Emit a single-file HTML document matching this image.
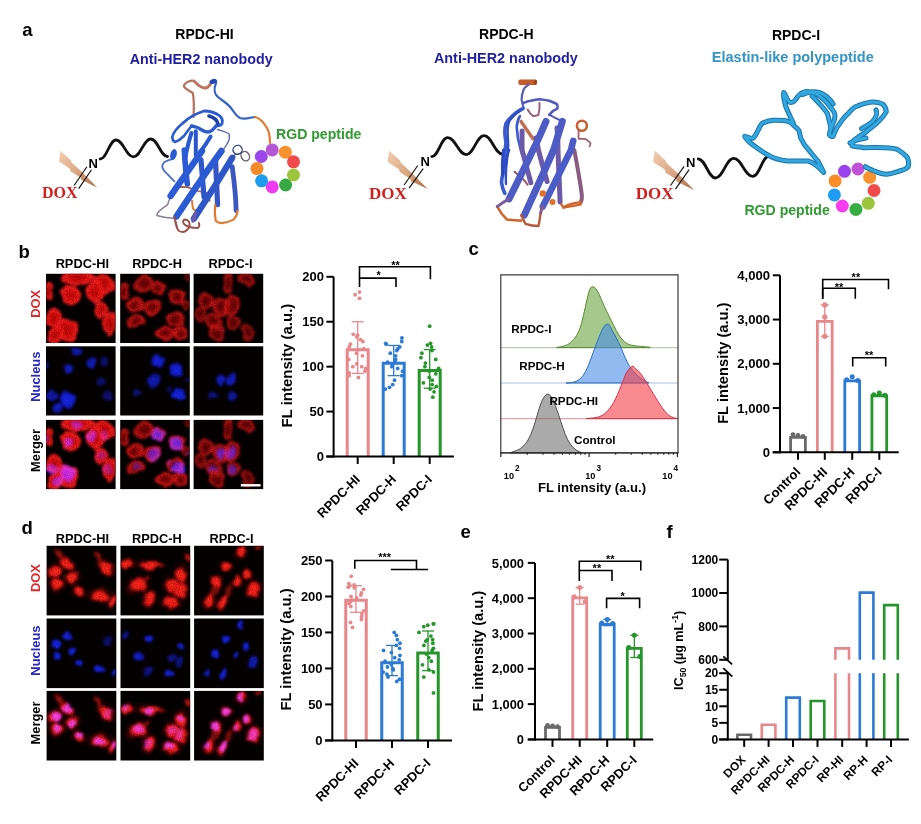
<!DOCTYPE html>
<html><head><meta charset="utf-8"><title>Figure</title>
<style>html,body{margin:0;padding:0;background:#fff;}svg{display:block;filter:blur(0.35px);}</style>
</head><body>
<svg width="921" height="824" viewBox="0 0 921 824">
<defs>
<linearGradient id="bolt" x1="0" y1="0" x2="1" y2="1">
<stop offset="0" stop-color="#f2cfb2"/><stop offset="0.55" stop-color="#d9a47e"/><stop offset="1" stop-color="#a86a42"/>
</linearGradient>
<radialGradient id="gb"><stop offset="0" stop-color="#680000"/><stop offset="0.4" stop-color="#8c0606"/><stop offset="0.68" stop-color="#d81414"/><stop offset="0.86" stop-color="#e01616" stop-opacity="0.92"/><stop offset="1" stop-color="#e01616" stop-opacity="0"/></radialGradient>
<radialGradient id="gd"><stop offset="0" stop-color="#ff2a1e"/><stop offset="0.7" stop-color="#f01a14"/><stop offset="1" stop-color="#f01a14" stop-opacity="0"/></radialGradient>
<radialGradient id="gb1"><stop offset="0" stop-color="#b00404"/><stop offset="0.45" stop-color="#d40e0e"/><stop offset="0.75" stop-color="#f01a1a"/><stop offset="0.9" stop-color="#f01a1a" stop-opacity="0.9"/><stop offset="1" stop-color="#f01a1a" stop-opacity="0"/></radialGradient>
<radialGradient id="gh"><stop offset="0" stop-color="#e01010"/><stop offset="0.6" stop-color="#c00c0c" stop-opacity="0.7"/><stop offset="1" stop-color="#c00c0c" stop-opacity="0"/></radialGradient>
<radialGradient id="gn"><stop offset="0" stop-color="#1824e8"/><stop offset="0.6" stop-color="#1420d0"/><stop offset="0.85" stop-color="#1018c0" stop-opacity="0.8"/><stop offset="1" stop-color="#1018c0" stop-opacity="0"/></radialGradient>
<filter id="soft" x="-10%" y="-10%" width="120%" height="120%"><feGaussianBlur stdDeviation="1.1"/></filter>
<filter id="cellf" filterUnits="userSpaceOnUse" x="0" y="0" width="70" height="70" color-interpolation-filters="sRGB">
<feTurbulence type="fractalNoise" baseFrequency="0.09" numOctaves="2" seed="11" result="w"/>
<feDisplacementMap in="SourceGraphic" in2="w" scale="7" xChannelSelector="R" yChannelSelector="G" result="dsp"/>
<feGaussianBlur in="dsp" stdDeviation="1.3" result="b"/>
<feTurbulence type="fractalNoise" baseFrequency="0.85" numOctaves="1" seed="4" result="n"/>
<feColorMatrix in="n" type="matrix" values="1 0 0 0 0  1 0 0 0 0  1 0 0 0 0  1 0 0 0 0" result="g"/>
<feComposite in="b" in2="g" operator="arithmetic" k1="0.9" k2="0.72" k3="0" k4="0"/>
</filter>
<filter id="nucf" filterUnits="userSpaceOnUse" x="0" y="0" width="70" height="70" color-interpolation-filters="sRGB">
<feTurbulence type="fractalNoise" baseFrequency="0.09" numOctaves="2" seed="11" result="w"/>
<feDisplacementMap in="SourceGraphic" in2="w" scale="7" xChannelSelector="R" yChannelSelector="G" result="dsp"/>
<feGaussianBlur in="dsp" stdDeviation="1.0" result="b"/>
<feTurbulence type="fractalNoise" baseFrequency="0.8" numOctaves="1" seed="9" result="n"/>
<feColorMatrix in="n" type="matrix" values="1 0 0 0 0  1 0 0 0 0  1 0 0 0 0  1 0 0 0 0" result="g"/>
<feComposite in="b" in2="g" operator="arithmetic" k1="0.8" k2="0.75" k3="0" k4="0"/>
</filter>
</defs>
<rect width="921" height="824" fill="#fff"/>
<text x="22.20" y="36.00" font-family="'Liberation Sans', Arial, Helvetica, sans-serif" font-size="18.5" font-weight="bold" fill="#000" text-anchor="start" >a</text>
<text x="18.60" y="257.80" font-family="'Liberation Sans', Arial, Helvetica, sans-serif" font-size="18.5" font-weight="bold" fill="#000" text-anchor="start" >b</text>
<text x="468.60" y="255.20" font-family="'Liberation Sans', Arial, Helvetica, sans-serif" font-size="18.5" font-weight="bold" fill="#000" text-anchor="start" >c</text>
<text x="21.40" y="534.00" font-family="'Liberation Sans', Arial, Helvetica, sans-serif" font-size="18.5" font-weight="bold" fill="#000" text-anchor="start" >d</text>
<text x="460.60" y="537.80" font-family="'Liberation Sans', Arial, Helvetica, sans-serif" font-size="18.5" font-weight="bold" fill="#000" text-anchor="start" >e</text>
<text x="666.50" y="537.60" font-family="'Liberation Sans', Arial, Helvetica, sans-serif" font-size="18.5" font-weight="bold" fill="#000" text-anchor="start" >f</text>
<text x="204.50" y="39.40" font-family="'Liberation Sans', Arial, Helvetica, sans-serif" font-size="14" font-weight="bold" fill="#000" text-anchor="middle" >RPDC-HI</text>
<text x="201.20" y="64.20" font-family="'Liberation Sans', Arial, Helvetica, sans-serif" font-size="14.3" font-weight="bold" fill="#1f1fa0" text-anchor="middle" >Anti-HER2 nanobody</text>
<text x="506.30" y="39.20" font-family="'Liberation Sans', Arial, Helvetica, sans-serif" font-size="14" font-weight="bold" fill="#000" text-anchor="middle" >RPDC-H</text>
<text x="505.90" y="62.50" font-family="'Liberation Sans', Arial, Helvetica, sans-serif" font-size="14.4" font-weight="bold" fill="#1f1fa0" text-anchor="middle" >Anti-HER2 nanobody</text>
<text x="796.00" y="39.80" font-family="'Liberation Sans', Arial, Helvetica, sans-serif" font-size="14" font-weight="bold" fill="#000" text-anchor="middle" >RPDC-I</text>
<text x="792.80" y="62.30" font-family="'Liberation Sans', Arial, Helvetica, sans-serif" font-size="14.5" font-weight="bold" fill="#3494c4" text-anchor="middle" >Elastin-like polypeptide</text>
<text x="276.00" y="139.20" font-family="'Liberation Sans', Arial, Helvetica, sans-serif" font-size="14.1" font-weight="bold" fill="#2f9a2f" text-anchor="start" >RGD peptide</text>
<text x="744.40" y="215.40" font-family="'Liberation Sans', Arial, Helvetica, sans-serif" font-size="14.1" font-weight="bold" fill="#2f9a2f" text-anchor="start" >RGD peptide</text>
<polygon points="60.4,150.7 71.0,160.4 71.5,162.4 81.8,171.8 97.2,187.5 81.0,179.8 80.6,177.6 70.4,171.2 70.1,168.7 59.0,161.5" fill="url(#bolt)"/>
<line x1="86.90" y1="166.70" x2="74.10" y2="185.50" stroke="#111" stroke-width="1.15" stroke-linecap="butt"/>
<line x1="91.50" y1="169.80" x2="78.70" y2="188.60" stroke="#111" stroke-width="1.15" stroke-linecap="butt"/>
<text x="88.60" y="167.80" font-family="'Liberation Sans', Arial, Helvetica, sans-serif" font-size="13" font-weight="bold" fill="#000" text-anchor="start" >N</text>
<text x="42.00" y="197.90" font-family="'Liberation Serif', 'Times New Roman', serif" font-size="16" font-weight="bold" fill="#d41e1e" text-anchor="start" >DOX</text>
<path d="M100.2,159.0 C106.8,159.0 109.4,140.0 116.0,140.0 C123.3,140.0 126.1,156.8 133.4,156.8 C140.7,156.8 143.5,139.0 150.8,139.0 C157.8,139.0 160.5,156.5 167.5,156.5" fill="none" stroke="#111" stroke-width="2.8" stroke-linecap="round"/>
<polygon points="389.1,150.5 400.2,160.7 400.8,162.8 411.6,172.7 427.7,189.1 410.7,181.1 410.3,178.7 399.6,172.0 399.3,169.4 387.6,161.8" fill="url(#bolt)"/>
<line x1="417.80" y1="165.50" x2="404.10" y2="185.00" stroke="#111" stroke-width="1.15" stroke-linecap="butt"/>
<line x1="423.20" y1="168.70" x2="409.10" y2="188.20" stroke="#111" stroke-width="1.15" stroke-linecap="butt"/>
<text x="420.60" y="165.60" font-family="'Liberation Sans', Arial, Helvetica, sans-serif" font-size="13" font-weight="bold" fill="#000" text-anchor="start" >N</text>
<text x="369.00" y="198.60" font-family="'Liberation Serif', 'Times New Roman', serif" font-size="17" font-weight="bold" fill="#d41e1e" text-anchor="start" >DOX</text>
<path d="M431.8,156.6 C438.4,156.6 441.0,137.6 447.6,137.6 C455.4,137.6 458.4,154.6 466.2,154.6 C473.7,154.6 476.6,135.6 484.1,135.6 C491.7,135.6 494.7,154.0 502.3,154.0" fill="none" stroke="#111" stroke-width="2.8" stroke-linecap="round"/>
<polygon points="654.6,150.5 665.9,160.9 666.5,163.0 677.5,173.1 694.0,189.9 676.6,181.6 676.2,179.3 665.3,172.4 665.0,169.8 653.1,162.1" fill="url(#bolt)"/>
<line x1="684.10" y1="166.40" x2="670.50" y2="185.50" stroke="#111" stroke-width="1.15" stroke-linecap="butt"/>
<line x1="689.10" y1="169.60" x2="675.50" y2="189.10" stroke="#111" stroke-width="1.15" stroke-linecap="butt"/>
<text x="686.00" y="166.50" font-family="'Liberation Sans', Arial, Helvetica, sans-serif" font-size="13" font-weight="bold" fill="#000" text-anchor="start" >N</text>
<text x="635.80" y="198.70" font-family="'Liberation Serif', 'Times New Roman', serif" font-size="17" font-weight="bold" fill="#d41e1e" text-anchor="start" >DOX</text>
<path d="M698.3,159.0 C705.5,159.0 708.3,178.0 715.5,178.0 C723.1,178.0 726.1,158.4 733.7,158.4 C741.7,158.4 744.8,176.4 752.8,176.4 C759.5,176.4 762.1,156.4 768.8,156.4" fill="none" stroke="#111" stroke-width="2.8" stroke-linecap="round"/>
<circle cx="272.2" cy="149.9" r="6.5" fill="#b556d6"/>
<circle cx="285.3" cy="152.2" r="6.5" fill="#f8922e"/>
<circle cx="293.5" cy="161.8" r="6.5" fill="#f04a4a"/>
<circle cx="293.5" cy="175" r="6.5" fill="#9cc43c"/>
<circle cx="285.6" cy="185" r="6.5" fill="#36a844"/>
<circle cx="272.2" cy="186.9" r="6.5" fill="#f03cf0"/>
<circle cx="261.6" cy="180.8" r="6.5" fill="#1c9cf0"/>
<circle cx="257" cy="168.6" r="6.5" fill="#f58a26"/>
<circle cx="261.3" cy="156.5" r="6.5" fill="#9a46ea"/>
<circle cx="844.5" cy="171.3" r="6.5" fill="#9a42ee"/>
<circle cx="858" cy="169" r="6.5" fill="#bf52d6"/>
<circle cx="869.7" cy="177.3" r="6.5" fill="#f8922e"/>
<circle cx="874" cy="190.5" r="6.5" fill="#f04a4a"/>
<circle cx="868.3" cy="203.3" r="6.5" fill="#9cc43c"/>
<circle cx="855.9" cy="209.4" r="6.5" fill="#36ae44"/>
<circle cx="842.3" cy="206" r="6.5" fill="#f83cf0"/>
<circle cx="834.4" cy="194.9" r="6.5" fill="#1c9cf4"/>
<circle cx="835.1" cy="180.9" r="6.5" fill="#f88c26"/>
<path d="M193.5,117 C194,108 194,99 192.8,93 C188,90 183,88 184,85 C186,82 191,80 194,81" fill="none" stroke="#b8705a" stroke-width="2.2" stroke-linecap="round" stroke-linejoin="round" />
<path d="M194,81 C197,84 200,88 205,88 C209,88 210,84 212,82" fill="none" stroke="#c0705c" stroke-width="2.8" stroke-linecap="round" stroke-linejoin="round" />
<path d="M212,82 C214,80 217,79 216,83 C214,88 214,94 218,97 C223,101 228,104 231,108 C234,112 236,116 240,118 C246,120 251,117 255,117" fill="none" stroke="#3565c8" stroke-width="2.2" stroke-linecap="round" stroke-linejoin="round" />
<path d="M255,117 C260,118 264,123 267,128 C270,133 270,138 270,143" fill="none" stroke="#e07a30" stroke-width="2.2" stroke-linecap="round" stroke-linejoin="round" />
<ellipse cx="213" cy="81.5" rx="3.6" ry="2.4" fill="#2448b8" transform="rotate(-20 213 81.5)"/>
<path d="M179.4,187.1 C182,187 185,187 187.3,187.1 C191,188 194,190 198,191 C201,192 204,192 206.8,193 C208,195 209,198 209.7,200.8" fill="none" stroke="#b06048" stroke-width="1.8" stroke-linecap="round" stroke-linejoin="round" />
<path d="M192.1,200.8 C192,203 192.5,206 193.1,208.7 C194,210 195,210.5 197,210.6" fill="none" stroke="#e07a30" stroke-width="2" stroke-linecap="round" stroke-linejoin="round" />
<path d="M183,123 C188,118 195,114 204,111 C210,111 216,113 220,116 C223,119 223,123 221,125 C219,126 217,126 216,126" fill="none" stroke="#2a5bd4" stroke-width="2.8" stroke-linecap="round" stroke-linejoin="round" />
<path d="M209,116 C213,117 217,120 218,124" fill="none" stroke="#1f3fa8" stroke-width="3.6" stroke-linecap="round" stroke-linejoin="round" />
<path d="M191.5,126 C195,127 198,127 200,129 C203,131 206,132 208,132 C211,132 213,130 216,126" fill="none" stroke="#2a5bd4" stroke-width="3.4" stroke-linecap="round" stroke-linejoin="round" />
<path d="M183,123 C178,127 174,131 172.4,136.5 C172,139 173,141 175,142 C178,141 181,139 184,136 C187,132 189,129 191.5,126" fill="none" stroke="#2a5bd4" stroke-width="2.6" stroke-linecap="round" stroke-linejoin="round" />
<path d="M217.6,129.5 C222,131 227,132 229,134 C230,137 229,141 227,144 C225,148 221,152 217.6,157" fill="none" stroke="#5a6ab0" stroke-width="1.4" stroke-linecap="round" stroke-linejoin="round" />
<path d="M185.4,157 C187,149 189,140 191.5,133" fill="none" stroke="#2a5bd4" stroke-width="4" stroke-linecap="round" stroke-linejoin="round" />
<path d="M195.8,155.6 C195.8,147 195.8,139 195.8,131.3" fill="none" stroke="#2b55c8" stroke-width="4" stroke-linecap="round" stroke-linejoin="round" />
<path d="M200.2,152 C204,147 208,141 210.6,136.5" fill="none" stroke="#2a5bd4" stroke-width="4" stroke-linecap="round" stroke-linejoin="round" />
<path d="M173.6,158.8 C169,160 165,161 163.8,162.7 C162,165 162,167 162.8,168.6 C164,171 166,173 167.7,174.4 C170,177 172,179 174.5,181.3" fill="none" stroke="#4b6cc8" stroke-width="1.8" stroke-linecap="round" stroke-linejoin="round" />
<ellipse cx="173.5" cy="154.5" rx="3.2" ry="5.5" fill="#2a5bd4" transform="rotate(15 173.5 154.5)"/>
<path d="M170.6,197 C169,200 168,203 167.7,204.7 C163,208 160,210 157.9,212.6 C157,214 157,215 157,215.5 C160,216.5 163,217 165.8,217.4 C169,218 172,218 174.5,218.4 C176,221 177,225 177.5,228.2" fill="none" stroke="#8a7a9a" stroke-width="1.5" stroke-linecap="round" stroke-linejoin="round" />
<path d="M184.3,150 C185,162 186,174 187.3,184" fill="none" stroke="#2a5bd4" stroke-width="5.6" stroke-linecap="round" stroke-linejoin="round" />
<path d="M201,159.8 C202,172 203,185 204,197" fill="none" stroke="#2c58cc" stroke-width="5.2" stroke-linecap="round" stroke-linejoin="round" />
<path d="M215.6,159.8 C216,174 217,190 217.6,204.7" fill="none" stroke="#3355c8" stroke-width="5.2" stroke-linecap="round" stroke-linejoin="round" />
<path d="M232.2,166.6 C234,180 236,196 236.1,210.6" fill="none" stroke="#3a58c0" stroke-width="4.8" stroke-linecap="round" stroke-linejoin="round" />
<path d="M170.6,196 C180,182 192,166 202,151" fill="none" stroke="#2a5bd4" stroke-width="6.4" stroke-linecap="round" stroke-linejoin="round" />
<path d="M176.5,216.5 C190,196 206,172 221.5,151" fill="none" stroke="#2a5bd4" stroke-width="6.4" stroke-linecap="round" stroke-linejoin="round" />
<path d="M194,218.4 C206,200 220,178 232.2,157.8" fill="none" stroke="#2d56c6" stroke-width="6.4" stroke-linecap="round" stroke-linejoin="round" />
<path d="M215.2,205 C214.6,210 214.8,216 215.7,220.8 C217.5,222.5 219.5,223.2 221.7,223.1 C226,222.5 230,221.5 233.6,219.6 C236,217 237.5,214 237.5,210.6" fill="none" stroke="#e07a30" stroke-width="2.2" stroke-linecap="round" stroke-linejoin="round" />
<path d="M174.5,217 C175.5,224 176.5,229 179,231 C182,232.5 185,232 187,230 C189,228 190,225 189.4,223 C188.5,220.5 186,219.5 184.6,219.5 C183,220 182.5,222 184,224 C187,227 192,228 197.8,228 C199.5,227 199.5,225 199,223" fill="none" stroke="#9a5048" stroke-width="1.9" stroke-linecap="round" stroke-linejoin="round" />
<path d="M195.4,213.6 C194.5,216 193.8,218 193,221" fill="none" stroke="#6a5aaa" stroke-width="3.5" stroke-linecap="round" stroke-linejoin="round" />
<ellipse cx="237.6" cy="149.8" rx="4.6" ry="4.4" fill="none" stroke="#34447e" stroke-width="1.4" transform="rotate(-30 237.6 149.8)"/>
<ellipse cx="245.3" cy="156.1" rx="4.0" ry="4.9" fill="none" stroke="#6a6070" stroke-width="1.4" transform="rotate(-30 245.3 156.1)"/>
<path d="M232.5,156 C234,155 236,154.5 238,154" fill="none" stroke="#34447e" stroke-width="1.2" stroke-linecap="round" stroke-linejoin="round" />
<rect x="518.3" y="79.4" width="18.5" height="5.6" rx="2" fill="#c85a28"/>
<ellipse cx="535.5" cy="82.2" rx="1.6" ry="2.8" fill="#a04418"/>
<path d="M528.7,84.5 C525,87 523.2,89 523.2,91 C522,94 521.6,97 521.6,99.7 C522,102 522.5,104 523.2,106.2" fill="none" stroke="#5a60b0" stroke-width="2.2" stroke-linecap="round" stroke-linejoin="round" />
<path d="M523.2,103 C526,102 528,101 530.8,100.8 C534,100 536,99.5 539.5,99.2 C543,99.5 546,100 549.3,100.8 C552,102 555,103 556.9,104.1 C558,106 558,107 557.4,108.4 C556,109.5 555,110 553.6,110.6 C552,112 550.5,113.5 549.3,114.9" fill="none" stroke="#5058c0" stroke-width="2.6" stroke-linecap="round" stroke-linejoin="round" />
<path d="M527.6,109.5 C529,112 531,114.5 533,116 C535,116 537,115.5 538.4,114.9 C539.5,111 539.8,107 539.5,103" fill="none" stroke="#9a6078" stroke-width="2" stroke-linecap="round" stroke-linejoin="round" />
<path d="M523.2,108.4 C518,111 514,114 511.3,117.1 C509,119 507,121 505.9,123.6 C505,127 504.8,130 504.8,132.3 C505,136 505.5,139 505.9,143.1 C505.5,147 505,151 504.8,154 C504,160 503,166 503.5,172 C502,177 501.5,180 501.5,182.6 C502,186 503,190 504.8,193.4" fill="none" stroke="#3a5ad0" stroke-width="3.6" stroke-linecap="round" stroke-linejoin="round" />
<path d="M521,110 C515,114 511,118 509,122 C507,127 507.5,133 508,140 C508.5,147 508,153 507,160 C506,168 505.5,176 506,184" fill="none" stroke="#2f4fc4" stroke-width="2.4" stroke-linecap="round" stroke-linejoin="round" />
<path d="M503.5,150 C502.5,158 502,166 502.5,175" fill="none" stroke="#2a4ac0" stroke-width="3" stroke-linecap="round" stroke-linejoin="round" />
<path d="M520,116 C518,119 517,123 516.7,126.9 C517,130 517.5,134 517.8,137.7 C519,143 520.5,149 522.1,154" fill="none" stroke="#3a5ad0" stroke-width="2.6" stroke-linecap="round" stroke-linejoin="round" />
<path d="M509.1,150 C507,156 505.5,161 504.8,166.3" fill="none" stroke="#2a4ac8" stroke-width="2.4" stroke-linecap="round" stroke-linejoin="round" />
<path d="M521,121.4 C525,127 529,133 533,138.8" fill="none" stroke="#c07050" stroke-width="3.5" stroke-linecap="round" stroke-linejoin="round" />
<path d="M514.5,171.7 C517,174 519.5,176 522.1,178.2 C524,180 526,182 527.6,184.7" fill="none" stroke="#9a5a70" stroke-width="2" stroke-linecap="round" stroke-linejoin="round" />
<path d="M522.1,131 C522,140 522,145 522.1,150 C525,161 528,172 530.8,182.6" fill="none" stroke="#6c5aa8" stroke-width="5" stroke-linecap="round" stroke-linejoin="round" />
<path d="M536,138 C537,142 538,146 538.4,150 C541,160 544,171 547.1,181.5" fill="none" stroke="#6c5aa8" stroke-width="5" stroke-linecap="round" stroke-linejoin="round" />
<path d="M557,128 C557.5,136 558,143 558,150 C558.5,167 559.5,185 560.1,202.1" fill="none" stroke="#6c5aa8" stroke-width="5" stroke-linecap="round" stroke-linejoin="round" />
<path d="M574.3,150 C577,165 580,180 581.9,195.6 C582,199 581.5,201 580.8,202.1" fill="none" stroke="#8a5a80" stroke-width="4" stroke-linecap="round" stroke-linejoin="round" />
<path d="M549.3,114.9 C552,116 555,118 558,119.3 C560,120 561.5,121 562.3,121.4" fill="none" stroke="#5058c0" stroke-width="2" stroke-linecap="round" stroke-linejoin="round" />
<path d="M546,121.4 C541,133 536,145 533,150 C525,167 517,183 509.1,198.9" fill="none" stroke="#4d5cc4" stroke-width="7" stroke-linecap="round" stroke-linejoin="round" />
<path d="M562.3,121.4 C559,132 556,142 553.6,150 C544,172 534,194 524.3,215.1" fill="none" stroke="#4d5cc4" stroke-width="7" stroke-linecap="round" stroke-linejoin="round" />
<path d="M573.2,141 C572,145 571.5,148 571,150 C562,168 552,188 542.8,206.5" fill="none" stroke="#4a5cc8" stroke-width="6.6" stroke-linecap="round" stroke-linejoin="round" />
<circle cx="581.9" cy="125.8" r="5" fill="none" stroke="#c86030" stroke-width="2.6"/>
<path d="M578.6,130.5 C578.5,134 578.6,137 578.6,138.8 C581,139 583,139 585.1,138.8 C587,140 589,141.5 590.5,143.1 C590.5,145 590,146 589.5,146.4" fill="none" stroke="#a06070" stroke-width="1.8" stroke-linecap="round" stroke-linejoin="round" />
<circle cx="542.8" cy="193.4" r="3.2" fill="#e0702a"/>
<circle cx="552.5" cy="202.1" r="3" fill="#e0702a"/>
<path d="M497.2,206.5 C500,212 503,216 506.9,219.5 C511,220 516,220.5 521.1,220.6" fill="none" stroke="#d2642a" stroke-width="2.6" stroke-linecap="round" stroke-linejoin="round" />
<path d="M509.1,198.9 C505,201 501,204 497.2,206.5" fill="none" stroke="#7a5aa0" stroke-width="3" stroke-linecap="round" stroke-linejoin="round" />
<path d="M521.1,215.1 C522.5,218 524,221 525.4,223.8 C529,225 533,226 538.4,226 C539.5,222 540,217 540.6,213" fill="none" stroke="#b85a3a" stroke-width="2.4" stroke-linecap="round" stroke-linejoin="round" />
<path d="M580.8,202.1 C575,203 568,204 563.4,207.5 C562.5,206 561.8,205 561.2,204.3" fill="none" stroke="#d2642a" stroke-width="2.4" stroke-linecap="round" stroke-linejoin="round" />
<path d="M563.4,207.5 C570,206.5 576,205.5 580.8,204.3" fill="none" stroke="#d2642a" stroke-width="2.4" stroke-linecap="round" stroke-linejoin="round" />
<path d="M542.8,206.5 C541.5,209 541,211 540.6,213" fill="none" stroke="#8a5a80" stroke-width="3" stroke-linecap="round" stroke-linejoin="round" />
<path d="M823.6,172.4 C818,166 812,162 808,161 C800,161 793,161 787.5,161 C780,160 773,158 768.5,155.3 C762,152 756,147 751.4,143.9 C748,141 745,138 744.8,136.3 C747,137 751,139 753.3,138.2 C756,135 757,132 758,130.6 C760,126 761,124 762.8,123 C767,121 770,120 774.2,120.2 C780,120 784,120 787.5,121.1 C790,122 792,123 793.2,124.9 C796,127 798,129 798.9,130.6 C800,134 800,136 800.8,138.2 C803,143 806,147 808.4,149.6 C812,154 815,158 817.9,161 C820,165 822,169 823.6,172.4" fill="none" stroke="#1a72ac" stroke-width="5.0" stroke-linecap="round" stroke-linejoin="round" />
<path d="M793.2,123 C790,116 787,110 785.6,105.9 C784,100 783,95 783.7,92.6 C786,95 787,100 789.4,102.1 C791,103 794,102 795.1,100.2 C797,97 799,95 800.8,93.6 C803,92 806,91 808.4,91.7 C813,92 817,94 819.8,96.4 C823,99 827,102 829.3,105.9 C832,109 835,112 835,115.4 C835,119 834,121 833.1,123 C831,127 830,131 829.3,134.4 C830,136 832,137 833.1,136.3 C835,132 836,128 838.8,124.9 C842,120 845,116 848.3,113.5 C851,110 854,107 857.8,105.9 C863,104 868,102 873,102.1 C877,102 880,103 882.5,104 C885,106 886,108 886.3,111.6 C884,116 880,120 876.8,123 C872,127 868,130 865.4,132.5 C861,135 857,138 854,140.1 C853,142 852,144 852.1,145.8 C856,147 860,147 863.5,147.7 C870,148 876,147 882.5,147.7 C888,148 893,148 897.7,149.6 C902,152 905,155 907.2,157.2 C909,161 909,164 908.2,166.7 C906,169 904,170 901.5,170.5 C896,172 891,174 886.3,174.3 C881,174 877,172 873,170.5 C870,169 867,168 865.4,166.7" fill="none" stroke="#1a72ac" stroke-width="5.0" stroke-linecap="round" stroke-linejoin="round" />
<path d="M812,96 C818,102 824,108 827.4,113.5 C829,119 830,124 831.2,128.7" fill="none" stroke="#1a72ac" stroke-width="5.0" stroke-linecap="round" stroke-linejoin="round" />
<path d="M802.7,94.5 C808,92 814,91 819.8,92.6 C826,95 830,99 833.1,104" fill="none" stroke="#1a72ac" stroke-width="5.0" stroke-linecap="round" stroke-linejoin="round" />
<path d="M861.6,128.7 C866,126 870,124 873,121 C876,117 878,113 876,110" fill="none" stroke="#1a72ac" stroke-width="5.0" stroke-linecap="round" stroke-linejoin="round" />
<path d="M850,143 C855,140 860,139 866,138" fill="none" stroke="#1a72ac" stroke-width="5.0" stroke-linecap="round" stroke-linejoin="round" />
<path d="M823.6,172.4 C818,166 812,162 808,161 C800,161 793,161 787.5,161 C780,160 773,158 768.5,155.3 C762,152 756,147 751.4,143.9 C748,141 745,138 744.8,136.3 C747,137 751,139 753.3,138.2 C756,135 757,132 758,130.6 C760,126 761,124 762.8,123 C767,121 770,120 774.2,120.2 C780,120 784,120 787.5,121.1 C790,122 792,123 793.2,124.9 C796,127 798,129 798.9,130.6 C800,134 800,136 800.8,138.2 C803,143 806,147 808.4,149.6 C812,154 815,158 817.9,161 C820,165 822,169 823.6,172.4" fill="none" stroke="#30a8e0" stroke-width="3.0" stroke-linecap="round" stroke-linejoin="round" />
<path d="M793.2,123 C790,116 787,110 785.6,105.9 C784,100 783,95 783.7,92.6 C786,95 787,100 789.4,102.1 C791,103 794,102 795.1,100.2 C797,97 799,95 800.8,93.6 C803,92 806,91 808.4,91.7 C813,92 817,94 819.8,96.4 C823,99 827,102 829.3,105.9 C832,109 835,112 835,115.4 C835,119 834,121 833.1,123 C831,127 830,131 829.3,134.4 C830,136 832,137 833.1,136.3 C835,132 836,128 838.8,124.9 C842,120 845,116 848.3,113.5 C851,110 854,107 857.8,105.9 C863,104 868,102 873,102.1 C877,102 880,103 882.5,104 C885,106 886,108 886.3,111.6 C884,116 880,120 876.8,123 C872,127 868,130 865.4,132.5 C861,135 857,138 854,140.1 C853,142 852,144 852.1,145.8 C856,147 860,147 863.5,147.7 C870,148 876,147 882.5,147.7 C888,148 893,148 897.7,149.6 C902,152 905,155 907.2,157.2 C909,161 909,164 908.2,166.7 C906,169 904,170 901.5,170.5 C896,172 891,174 886.3,174.3 C881,174 877,172 873,170.5 C870,169 867,168 865.4,166.7" fill="none" stroke="#30a8e0" stroke-width="3.0" stroke-linecap="round" stroke-linejoin="round" />
<path d="M812,96 C818,102 824,108 827.4,113.5 C829,119 830,124 831.2,128.7" fill="none" stroke="#30a8e0" stroke-width="3.0" stroke-linecap="round" stroke-linejoin="round" />
<path d="M802.7,94.5 C808,92 814,91 819.8,92.6 C826,95 830,99 833.1,104" fill="none" stroke="#30a8e0" stroke-width="3.0" stroke-linecap="round" stroke-linejoin="round" />
<path d="M861.6,128.7 C866,126 870,124 873,121 C876,117 878,113 876,110" fill="none" stroke="#30a8e0" stroke-width="3.0" stroke-linecap="round" stroke-linejoin="round" />
<path d="M850,143 C855,140 860,139 866,138" fill="none" stroke="#30a8e0" stroke-width="3.0" stroke-linecap="round" stroke-linejoin="round" />
<svg x="46" y="273.8" width="69.6" height="69.2" viewBox="0 0 69.6 69.2" overflow="hidden"><rect width="69.6" height="69.2" fill="#050000"/><g style="isolation:isolate"><g filter="url(#cellf)"><ellipse cx="31" cy="4" rx="19.040000000000003" ry="7.280000000000001" fill="url(#gb1)" opacity="1"/><ellipse cx="58" cy="10" rx="11.200000000000001" ry="10.080000000000002" fill="url(#gb1)" opacity="1" transform="rotate(20 58 10)"/><ellipse cx="49" cy="19" rx="9.520000000000001" ry="12.32" fill="url(#gb1)" opacity="1"/><ellipse cx="25" cy="21" rx="10.080000000000002" ry="10.64" fill="url(#gb1)" opacity="1"/><ellipse cx="3" cy="17" rx="5.6000000000000005" ry="8.96" fill="url(#gb1)" opacity="0.95"/><ellipse cx="55" cy="36" rx="6.720000000000001" ry="8.96" fill="url(#gb1)" opacity="0.95" transform="rotate(20 55 36)"/><ellipse cx="64" cy="50" rx="7.840000000000001" ry="12.32" fill="url(#gb1)" opacity="0.95"/><ellipse cx="8" cy="44" rx="8.4" ry="8.96" fill="url(#gb1)" opacity="1"/><ellipse cx="20" cy="57" rx="12.88" ry="12.32" fill="url(#gb1)" opacity="1"/><ellipse cx="10" cy="61" rx="10.080000000000002" ry="8.96" fill="url(#gb1)" opacity="1"/></g></g></svg>
<svg x="46" y="346.3" width="69.6" height="69.2" viewBox="0 0 69.6 69.2" overflow="hidden"><rect width="69.6" height="69.2" fill="#050000"/><g style="isolation:isolate"><g filter="url(#nucf)" style="mix-blend-mode:screen"><ellipse cx="30.6" cy="5.3" rx="6.6000000000000005" ry="4.18" fill="url(#gn)" opacity="0.8"/><ellipse cx="1" cy="18.6" rx="2.8600000000000003" ry="4.18" fill="url(#gn)" opacity="0.7"/><ellipse cx="22.9" cy="22.2" rx="4.95" ry="6.050000000000001" fill="url(#gn)" opacity="0.85"/><ellipse cx="45.8" cy="16.9" rx="5.5" ry="6.050000000000001" fill="url(#gn)" opacity="0.8"/><ellipse cx="58.3" cy="14.9" rx="4.18" ry="5.5" fill="url(#gn)" opacity="0.5"/><ellipse cx="54.7" cy="35.4" rx="4.95" ry="4.95" fill="url(#gn)" opacity="0.5"/><ellipse cx="6.5" cy="48.7" rx="6.050000000000001" ry="6.050000000000001" fill="url(#gn)" opacity="0.75"/><ellipse cx="21" cy="53.5" rx="7.700000000000001" ry="9.350000000000001" fill="url(#gn)" opacity="1" transform="rotate(-20 21 53.5)"/><ellipse cx="12.5" cy="62" rx="6.050000000000001" ry="5.5" fill="url(#gn)" opacity="0.85"/><ellipse cx="61.9" cy="48.7" rx="5.5" ry="5.5" fill="url(#gn)" opacity="0.5"/></g></g></svg>
<svg x="46" y="419.9" width="69.6" height="69.2" viewBox="0 0 69.6 69.2" overflow="hidden"><rect width="69.6" height="69.2" fill="#050000"/><g style="isolation:isolate"><g filter="url(#cellf)"><ellipse cx="31" cy="4" rx="19.040000000000003" ry="7.280000000000001" fill="url(#gb1)" opacity="1"/><ellipse cx="58" cy="10" rx="11.200000000000001" ry="10.080000000000002" fill="url(#gb1)" opacity="1" transform="rotate(20 58 10)"/><ellipse cx="49" cy="19" rx="9.520000000000001" ry="12.32" fill="url(#gb1)" opacity="1"/><ellipse cx="25" cy="21" rx="10.080000000000002" ry="10.64" fill="url(#gb1)" opacity="1"/><ellipse cx="3" cy="17" rx="5.6000000000000005" ry="8.96" fill="url(#gb1)" opacity="0.95"/><ellipse cx="55" cy="36" rx="6.720000000000001" ry="8.96" fill="url(#gb1)" opacity="0.95" transform="rotate(20 55 36)"/><ellipse cx="64" cy="50" rx="7.840000000000001" ry="12.32" fill="url(#gb1)" opacity="0.95"/><ellipse cx="8" cy="44" rx="8.4" ry="8.96" fill="url(#gb1)" opacity="1"/><ellipse cx="20" cy="57" rx="12.88" ry="12.32" fill="url(#gb1)" opacity="1"/><ellipse cx="10" cy="61" rx="10.080000000000002" ry="8.96" fill="url(#gb1)" opacity="1"/></g><g filter="url(#nucf)" style="mix-blend-mode:screen"><ellipse cx="30.6" cy="5.3" rx="6.6000000000000005" ry="4.18" fill="url(#gn)" opacity="0.8"/><ellipse cx="1" cy="18.6" rx="2.8600000000000003" ry="4.18" fill="url(#gn)" opacity="0.7"/><ellipse cx="22.9" cy="22.2" rx="4.95" ry="6.050000000000001" fill="url(#gn)" opacity="0.85"/><ellipse cx="45.8" cy="16.9" rx="5.5" ry="6.050000000000001" fill="url(#gn)" opacity="0.8"/><ellipse cx="58.3" cy="14.9" rx="4.18" ry="5.5" fill="url(#gn)" opacity="0.5"/><ellipse cx="54.7" cy="35.4" rx="4.95" ry="4.95" fill="url(#gn)" opacity="0.5"/><ellipse cx="6.5" cy="48.7" rx="6.050000000000001" ry="6.050000000000001" fill="url(#gn)" opacity="0.75"/><ellipse cx="21" cy="53.5" rx="7.700000000000001" ry="9.350000000000001" fill="url(#gn)" opacity="1" transform="rotate(-20 21 53.5)"/><ellipse cx="12.5" cy="62" rx="6.050000000000001" ry="5.5" fill="url(#gn)" opacity="0.85"/><ellipse cx="61.9" cy="48.7" rx="5.5" ry="5.5" fill="url(#gn)" opacity="0.5"/></g></g></svg>
<svg x="120.2" y="273.8" width="69.6" height="69.2" viewBox="0 0 69.6 69.2" overflow="hidden"><rect width="69.6" height="69.2" fill="#050000"/><g style="isolation:isolate"><g filter="url(#cellf)"><ellipse cx="23.5" cy="9.5" rx="10.613999999999999" ry="8.54" fill="url(#gb)" opacity="0.85" transform="rotate(-20 23.5 9.5)"/><ellipse cx="38.3" cy="14.3" rx="7.441999999999999" ry="8.54" fill="url(#gb)" opacity="0.85"/><ellipse cx="4.2" cy="17.4" rx="6.344" ry="8.54" fill="url(#gb)" opacity="0.85"/><ellipse cx="57.1" cy="22.6" rx="9.028" ry="8.54" fill="url(#gb)" opacity="0.85"/><ellipse cx="14.3" cy="31.3" rx="10.613999999999999" ry="8.54" fill="url(#gb)" opacity="0.9" transform="rotate(-20 14.3 31.3)"/><ellipse cx="31.8" cy="33.5" rx="9.028" ry="8.54" fill="url(#gb)" opacity="0.9" transform="rotate(-30 31.8 33.5)"/><ellipse cx="65.4" cy="31.3" rx="4.27" ry="6.344" fill="url(#gb)" opacity="0.7"/><ellipse cx="15.6" cy="48" rx="9.638" ry="6.954" fill="url(#gb)" opacity="0.85" transform="rotate(-15 15.6 48)"/><ellipse cx="55" cy="45.3" rx="10.613999999999999" ry="7.441999999999999" fill="url(#gb)" opacity="0.85"/><ellipse cx="44.5" cy="59.3" rx="9.638" ry="8.052" fill="url(#gb)" opacity="0.9"/><ellipse cx="60.2" cy="59.3" rx="8.54" ry="8.052" fill="url(#gb)" opacity="0.9"/><ellipse cx="68" cy="3.4" rx="2.44" ry="4.27" fill="url(#gb)" opacity="0.6"/></g></g></svg>
<svg x="120.2" y="346.3" width="69.6" height="69.2" viewBox="0 0 69.6 69.2" overflow="hidden"><rect width="69.6" height="69.2" fill="#050000"/><g style="isolation:isolate"><g filter="url(#nucf)" style="mix-blend-mode:screen"><ellipse cx="37.8" cy="14.9" rx="7.48" ry="8.14" fill="url(#gn)" opacity="1"/><ellipse cx="56.4" cy="23.4" rx="7.700000000000001" ry="7.700000000000001" fill="url(#gn)" opacity="1"/><ellipse cx="33.5" cy="34.2" rx="6.820000000000001" ry="7.700000000000001" fill="url(#gn)" opacity="0.8"/><ellipse cx="58.8" cy="47.5" rx="7.700000000000001" ry="6.050000000000001" fill="url(#gn)" opacity="1"/><ellipse cx="16.6" cy="47.5" rx="5.5" ry="3.9600000000000004" fill="url(#gn)" opacity="0.55"/><ellipse cx="49.2" cy="42.7" rx="3.3000000000000003" ry="3.3000000000000003" fill="url(#gn)" opacity="0.4"/><ellipse cx="67" cy="34" rx="2.75" ry="3.3000000000000003" fill="url(#gn)" opacity="0.4"/></g></g></svg>
<svg x="120.2" y="419.9" width="69.6" height="69.2" viewBox="0 0 69.6 69.2" overflow="hidden"><rect width="69.6" height="69.2" fill="#050000"/><g style="isolation:isolate"><g filter="url(#cellf)"><ellipse cx="23.5" cy="9.5" rx="10.613999999999999" ry="8.54" fill="url(#gb)" opacity="0.85" transform="rotate(-20 23.5 9.5)"/><ellipse cx="38.3" cy="14.3" rx="7.441999999999999" ry="8.54" fill="url(#gb)" opacity="0.85"/><ellipse cx="4.2" cy="17.4" rx="6.344" ry="8.54" fill="url(#gb)" opacity="0.85"/><ellipse cx="57.1" cy="22.6" rx="9.028" ry="8.54" fill="url(#gb)" opacity="0.85"/><ellipse cx="14.3" cy="31.3" rx="10.613999999999999" ry="8.54" fill="url(#gb)" opacity="0.9" transform="rotate(-20 14.3 31.3)"/><ellipse cx="31.8" cy="33.5" rx="9.028" ry="8.54" fill="url(#gb)" opacity="0.9" transform="rotate(-30 31.8 33.5)"/><ellipse cx="65.4" cy="31.3" rx="4.27" ry="6.344" fill="url(#gb)" opacity="0.7"/><ellipse cx="15.6" cy="48" rx="9.638" ry="6.954" fill="url(#gb)" opacity="0.85" transform="rotate(-15 15.6 48)"/><ellipse cx="55" cy="45.3" rx="10.613999999999999" ry="7.441999999999999" fill="url(#gb)" opacity="0.85"/><ellipse cx="44.5" cy="59.3" rx="9.638" ry="8.052" fill="url(#gb)" opacity="0.9"/><ellipse cx="60.2" cy="59.3" rx="8.54" ry="8.052" fill="url(#gb)" opacity="0.9"/><ellipse cx="68" cy="3.4" rx="2.44" ry="4.27" fill="url(#gb)" opacity="0.6"/></g><g filter="url(#nucf)" style="mix-blend-mode:screen"><ellipse cx="37.8" cy="14.9" rx="7.48" ry="8.14" fill="url(#gn)" opacity="1"/><ellipse cx="56.4" cy="23.4" rx="7.700000000000001" ry="7.700000000000001" fill="url(#gn)" opacity="1"/><ellipse cx="33.5" cy="34.2" rx="6.820000000000001" ry="7.700000000000001" fill="url(#gn)" opacity="0.8"/><ellipse cx="58.8" cy="47.5" rx="7.700000000000001" ry="6.050000000000001" fill="url(#gn)" opacity="1"/><ellipse cx="16.6" cy="47.5" rx="5.5" ry="3.9600000000000004" fill="url(#gn)" opacity="0.55"/><ellipse cx="49.2" cy="42.7" rx="3.3000000000000003" ry="3.3000000000000003" fill="url(#gn)" opacity="0.4"/><ellipse cx="67" cy="34" rx="2.75" ry="3.3000000000000003" fill="url(#gn)" opacity="0.4"/></g></g></svg>
<svg x="193.6" y="273.8" width="69.6" height="69.2" viewBox="0 0 69.6 69.2" overflow="hidden"><rect width="69.6" height="69.2" fill="#050000"/><g style="isolation:isolate"><g filter="url(#cellf)"><ellipse cx="34.8" cy="10" rx="5.856" ry="11.712" fill="url(#gb)" opacity="0.75"/><ellipse cx="53.1" cy="5.7" rx="9.638" ry="6.954" fill="url(#gb)" opacity="0.75" transform="rotate(20 53.1 5.7)"/><ellipse cx="12" cy="27.5" rx="9.638" ry="9.028" fill="url(#gb)" opacity="0.75"/><ellipse cx="27.8" cy="32.8" rx="9.638" ry="10.613999999999999" fill="url(#gb)" opacity="0.8"/><ellipse cx="38.3" cy="31.9" rx="8.54" ry="10.613999999999999" fill="url(#gb)" opacity="0.8"/><ellipse cx="6.8" cy="40.6" rx="6.344" ry="6.954" fill="url(#gb)" opacity="0.7"/><ellipse cx="19" cy="47.6" rx="8.54" ry="8.54" fill="url(#gb)" opacity="0.75"/><ellipse cx="39.2" cy="48.5" rx="8.052" ry="7.441999999999999" fill="url(#gb)" opacity="0.75"/><ellipse cx="23.4" cy="59.9" rx="8.052" ry="8.052" fill="url(#gb)" opacity="0.75"/><ellipse cx="54" cy="58.1" rx="6.344" ry="10.126000000000001" fill="url(#gb)" opacity="0.7" transform="rotate(-10 54 58.1)"/></g></g></svg>
<svg x="193.6" y="346.3" width="69.6" height="69.2" viewBox="0 0 69.6 69.2" overflow="hidden"><rect width="69.6" height="69.2" fill="#050000"/><g style="isolation:isolate"><g filter="url(#nucf)" style="mix-blend-mode:screen"><ellipse cx="27.2" cy="33.7" rx="5.5" ry="6.050000000000001" fill="url(#gn)" opacity="0.85"/><ellipse cx="37.6" cy="33" rx="5.5" ry="6.050000000000001" fill="url(#gn)" opacity="0.85"/><ellipse cx="18.8" cy="49.9" rx="5.5" ry="4.18" fill="url(#gn)" opacity="0.6"/><ellipse cx="38.1" cy="49.4" rx="5.5" ry="4.18" fill="url(#gn)" opacity="0.7"/></g></g></svg>
<svg x="193.6" y="419.9" width="69.6" height="69.2" viewBox="0 0 69.6 69.2" overflow="hidden"><rect width="69.6" height="69.2" fill="#050000"/><g style="isolation:isolate"><g filter="url(#cellf)"><ellipse cx="34.8" cy="10" rx="5.856" ry="11.712" fill="url(#gb)" opacity="0.75"/><ellipse cx="53.1" cy="5.7" rx="9.638" ry="6.954" fill="url(#gb)" opacity="0.75" transform="rotate(20 53.1 5.7)"/><ellipse cx="12" cy="27.5" rx="9.638" ry="9.028" fill="url(#gb)" opacity="0.75"/><ellipse cx="27.8" cy="32.8" rx="9.638" ry="10.613999999999999" fill="url(#gb)" opacity="0.8"/><ellipse cx="38.3" cy="31.9" rx="8.54" ry="10.613999999999999" fill="url(#gb)" opacity="0.8"/><ellipse cx="6.8" cy="40.6" rx="6.344" ry="6.954" fill="url(#gb)" opacity="0.7"/><ellipse cx="19" cy="47.6" rx="8.54" ry="8.54" fill="url(#gb)" opacity="0.75"/><ellipse cx="39.2" cy="48.5" rx="8.052" ry="7.441999999999999" fill="url(#gb)" opacity="0.75"/><ellipse cx="23.4" cy="59.9" rx="8.052" ry="8.052" fill="url(#gb)" opacity="0.75"/><ellipse cx="54" cy="58.1" rx="6.344" ry="10.126000000000001" fill="url(#gb)" opacity="0.7" transform="rotate(-10 54 58.1)"/></g><g filter="url(#nucf)" style="mix-blend-mode:screen"><ellipse cx="27.2" cy="33.7" rx="5.5" ry="6.050000000000001" fill="url(#gn)" opacity="0.85"/><ellipse cx="37.6" cy="33" rx="5.5" ry="6.050000000000001" fill="url(#gn)" opacity="0.85"/><ellipse cx="18.8" cy="49.9" rx="5.5" ry="4.18" fill="url(#gn)" opacity="0.6"/><ellipse cx="38.1" cy="49.4" rx="5.5" ry="4.18" fill="url(#gn)" opacity="0.7"/></g></g><rect x="47.2" y="64.2" width="19.8" height="2.4" fill="#fff"/></svg>
<svg x="46.6" y="545.8" width="69.7" height="69.6" viewBox="0 0 69.7 69.6" overflow="hidden"><rect width="69.7" height="69.6" fill="#050000"/><g style="isolation:isolate"><g filter="url(#cellf)"><ellipse cx="7.2" cy="26" rx="13.299999999999999" ry="8.84" fill="url(#gh)" opacity="0.38" transform="rotate(-25 7.2 26)"/><ellipse cx="10.7" cy="38.3" rx="11.589999999999998" ry="8.84" fill="url(#gh)" opacity="0.38"/><ellipse cx="21.2" cy="18.2" rx="11.589999999999998" ry="7.48" fill="url(#gh)" opacity="0.38" transform="rotate(40 21.2 18.2)"/><ellipse cx="25.5" cy="32.2" rx="9.879999999999999" ry="8.16" fill="url(#gh)" opacity="0.38"/><ellipse cx="31.6" cy="45.3" rx="9.12" ry="8.84" fill="url(#gh)" opacity="0.38"/><ellipse cx="59.6" cy="21.7" rx="13.299999999999999" ry="8.84" fill="url(#gh)" opacity="0.38" transform="rotate(45 59.6 21.7)"/><ellipse cx="53.5" cy="49.7" rx="15.770000000000001" ry="9.69" fill="url(#gh)" opacity="0.38"/><ellipse cx="66.6" cy="54.9" rx="6.6499999999999995" ry="10.37" fill="url(#gh)" opacity="0.38" transform="rotate(30 66.6 54.9)"/><ellipse cx="13" cy="9" rx="11.399999999999999" ry="4.42" fill="url(#gh)" opacity="0.19" transform="rotate(40 13 9)"/><ellipse cx="52" cy="12" rx="9.5" ry="4.42" fill="url(#gh)" opacity="0.171" transform="rotate(50 52 12)"/><ellipse cx="29" cy="26" rx="5.699999999999999" ry="3.4" fill="url(#gh)" opacity="0.15200000000000002"/><ellipse cx="7.2" cy="26" rx="8.4" ry="6.24" fill="url(#gd)" opacity="1" transform="rotate(-25 7.2 26)"/><ellipse cx="10.7" cy="38.3" rx="7.319999999999999" ry="6.24" fill="url(#gd)" opacity="1"/><ellipse cx="21.2" cy="18.2" rx="7.319999999999999" ry="5.28" fill="url(#gd)" opacity="1" transform="rotate(40 21.2 18.2)"/><ellipse cx="25.5" cy="32.2" rx="6.24" ry="5.76" fill="url(#gd)" opacity="1"/><ellipse cx="31.6" cy="45.3" rx="5.76" ry="6.24" fill="url(#gd)" opacity="1"/><ellipse cx="59.6" cy="21.7" rx="8.4" ry="6.24" fill="url(#gd)" opacity="1" transform="rotate(45 59.6 21.7)"/><ellipse cx="53.5" cy="49.7" rx="9.96" ry="6.84" fill="url(#gd)" opacity="1"/><ellipse cx="66.6" cy="54.9" rx="4.2" ry="7.319999999999999" fill="url(#gd)" opacity="1" transform="rotate(30 66.6 54.9)"/><ellipse cx="13" cy="9" rx="7.199999999999999" ry="3.12" fill="url(#gd)" opacity="0.5" transform="rotate(40 13 9)"/><ellipse cx="52" cy="12" rx="6.0" ry="3.12" fill="url(#gd)" opacity="0.45" transform="rotate(50 52 12)"/><ellipse cx="29" cy="26" rx="3.5999999999999996" ry="2.4" fill="url(#gd)" opacity="0.4"/></g></g></svg>
<svg x="46.6" y="618.5" width="69.7" height="69.6" viewBox="0 0 69.7 69.6" overflow="hidden"><rect width="69.7" height="69.6" fill="#050000"/><g style="isolation:isolate"><g filter="url(#nucf)" style="mix-blend-mode:screen"><ellipse cx="8.7" cy="25.5" rx="5.83" ry="5.28" fill="url(#gn)" opacity="1"/><ellipse cx="21.7" cy="17.6" rx="4.51" ry="4.73" fill="url(#gn)" opacity="1" transform="rotate(20 21.7 17.6)"/><ellipse cx="10.4" cy="38.1" rx="4.73" ry="4.73" fill="url(#gn)" opacity="1"/><ellipse cx="25.6" cy="32.8" rx="4.73" ry="3.9600000000000004" fill="url(#gn)" opacity="1" transform="rotate(-15 25.6 32.8)"/><ellipse cx="32.1" cy="44.1" rx="4.73" ry="3.9600000000000004" fill="url(#gn)" opacity="1"/><ellipse cx="53" cy="49.6" rx="6.6000000000000005" ry="4.73" fill="url(#gn)" opacity="1"/><ellipse cx="61" cy="21.9" rx="5.28" ry="5.28" fill="url(#gn)" opacity="0.5"/><ellipse cx="67.5" cy="53.7" rx="3.3000000000000003" ry="4.73" fill="url(#gn)" opacity="1"/></g></g></svg>
<svg x="46.6" y="690.9" width="69.7" height="69.6" viewBox="0 0 69.7 69.6" overflow="hidden"><rect width="69.7" height="69.6" fill="#050000"/><g style="isolation:isolate"><g filter="url(#cellf)"><ellipse cx="7.2" cy="26" rx="13.299999999999999" ry="8.84" fill="url(#gh)" opacity="0.38" transform="rotate(-25 7.2 26)"/><ellipse cx="10.7" cy="38.3" rx="11.589999999999998" ry="8.84" fill="url(#gh)" opacity="0.38"/><ellipse cx="21.2" cy="18.2" rx="11.589999999999998" ry="7.48" fill="url(#gh)" opacity="0.38" transform="rotate(40 21.2 18.2)"/><ellipse cx="25.5" cy="32.2" rx="9.879999999999999" ry="8.16" fill="url(#gh)" opacity="0.38"/><ellipse cx="31.6" cy="45.3" rx="9.12" ry="8.84" fill="url(#gh)" opacity="0.38"/><ellipse cx="59.6" cy="21.7" rx="13.299999999999999" ry="8.84" fill="url(#gh)" opacity="0.38" transform="rotate(45 59.6 21.7)"/><ellipse cx="53.5" cy="49.7" rx="15.770000000000001" ry="9.69" fill="url(#gh)" opacity="0.38"/><ellipse cx="66.6" cy="54.9" rx="6.6499999999999995" ry="10.37" fill="url(#gh)" opacity="0.38" transform="rotate(30 66.6 54.9)"/><ellipse cx="13" cy="9" rx="11.399999999999999" ry="4.42" fill="url(#gh)" opacity="0.19" transform="rotate(40 13 9)"/><ellipse cx="52" cy="12" rx="9.5" ry="4.42" fill="url(#gh)" opacity="0.171" transform="rotate(50 52 12)"/><ellipse cx="29" cy="26" rx="5.699999999999999" ry="3.4" fill="url(#gh)" opacity="0.15200000000000002"/><ellipse cx="7.2" cy="26" rx="8.4" ry="6.24" fill="url(#gd)" opacity="1" transform="rotate(-25 7.2 26)"/><ellipse cx="10.7" cy="38.3" rx="7.319999999999999" ry="6.24" fill="url(#gd)" opacity="1"/><ellipse cx="21.2" cy="18.2" rx="7.319999999999999" ry="5.28" fill="url(#gd)" opacity="1" transform="rotate(40 21.2 18.2)"/><ellipse cx="25.5" cy="32.2" rx="6.24" ry="5.76" fill="url(#gd)" opacity="1"/><ellipse cx="31.6" cy="45.3" rx="5.76" ry="6.24" fill="url(#gd)" opacity="1"/><ellipse cx="59.6" cy="21.7" rx="8.4" ry="6.24" fill="url(#gd)" opacity="1" transform="rotate(45 59.6 21.7)"/><ellipse cx="53.5" cy="49.7" rx="9.96" ry="6.84" fill="url(#gd)" opacity="1"/><ellipse cx="66.6" cy="54.9" rx="4.2" ry="7.319999999999999" fill="url(#gd)" opacity="1" transform="rotate(30 66.6 54.9)"/><ellipse cx="13" cy="9" rx="7.199999999999999" ry="3.12" fill="url(#gd)" opacity="0.5" transform="rotate(40 13 9)"/><ellipse cx="52" cy="12" rx="6.0" ry="3.12" fill="url(#gd)" opacity="0.45" transform="rotate(50 52 12)"/><ellipse cx="29" cy="26" rx="3.5999999999999996" ry="2.4" fill="url(#gd)" opacity="0.4"/></g><g filter="url(#nucf)" style="mix-blend-mode:screen"><ellipse cx="8.7" cy="25.5" rx="5.83" ry="5.28" fill="url(#gn)" opacity="1"/><ellipse cx="21.7" cy="17.6" rx="4.51" ry="4.73" fill="url(#gn)" opacity="1" transform="rotate(20 21.7 17.6)"/><ellipse cx="10.4" cy="38.1" rx="4.73" ry="4.73" fill="url(#gn)" opacity="1"/><ellipse cx="25.6" cy="32.8" rx="4.73" ry="3.9600000000000004" fill="url(#gn)" opacity="1" transform="rotate(-15 25.6 32.8)"/><ellipse cx="32.1" cy="44.1" rx="4.73" ry="3.9600000000000004" fill="url(#gn)" opacity="1"/><ellipse cx="53" cy="49.6" rx="6.6000000000000005" ry="4.73" fill="url(#gn)" opacity="1"/><ellipse cx="61" cy="21.9" rx="5.28" ry="5.28" fill="url(#gn)" opacity="0.5"/><ellipse cx="67.5" cy="53.7" rx="3.3000000000000003" ry="4.73" fill="url(#gn)" opacity="1"/></g></g></svg>
<svg x="120.5" y="545.8" width="69.7" height="69.6" viewBox="0 0 69.7 69.6" overflow="hidden"><rect width="69.7" height="69.6" fill="#050000"/><g style="isolation:isolate"><g filter="url(#cellf)"><ellipse cx="6.5" cy="17.6" rx="11.969999999999999" ry="6.46" fill="url(#gh)" opacity="0.38"/><ellipse cx="29.9" cy="18.8" rx="16.72" ry="7.31" fill="url(#gh)" opacity="0.38"/><ellipse cx="17.4" cy="39.3" rx="14.44" ry="10.709999999999999" fill="url(#gh)" opacity="0.38" transform="rotate(-20 17.4 39.3)"/><ellipse cx="28.6" cy="52.5" rx="9.5" ry="11.9" fill="url(#gh)" opacity="0.38"/><ellipse cx="49.9" cy="56.2" rx="13.299999999999999" ry="9.52" fill="url(#gh)" opacity="0.38"/><ellipse cx="51.1" cy="39.3" rx="10.639999999999999" ry="10.709999999999999" fill="url(#gh)" opacity="0.361"/><ellipse cx="60.7" cy="28.4" rx="9.5" ry="12.92" fill="url(#gh)" opacity="0.38"/><ellipse cx="60.7" cy="44.1" rx="10.639999999999999" ry="10.709999999999999" fill="url(#gh)" opacity="0.361"/><ellipse cx="67" cy="11.6" rx="4.75" ry="5.1" fill="url(#gh)" opacity="0.22799999999999998"/><ellipse cx="40" cy="19" rx="9.5" ry="3.4" fill="url(#gh)" opacity="0.171"/><ellipse cx="25" cy="33" rx="9.5" ry="3.4" fill="url(#gh)" opacity="0.15200000000000002" transform="rotate(-30 25 33)"/><ellipse cx="6.5" cy="17.6" rx="7.56" ry="4.56" fill="url(#gd)" opacity="1"/><ellipse cx="29.9" cy="18.8" rx="10.56" ry="5.159999999999999" fill="url(#gd)" opacity="1"/><ellipse cx="17.4" cy="39.3" rx="9.12" ry="7.56" fill="url(#gd)" opacity="1" transform="rotate(-20 17.4 39.3)"/><ellipse cx="28.6" cy="52.5" rx="6.0" ry="8.4" fill="url(#gd)" opacity="1"/><ellipse cx="49.9" cy="56.2" rx="8.4" ry="6.72" fill="url(#gd)" opacity="1"/><ellipse cx="51.1" cy="39.3" rx="6.72" ry="7.56" fill="url(#gd)" opacity="0.95"/><ellipse cx="60.7" cy="28.4" rx="6.0" ry="9.12" fill="url(#gd)" opacity="1"/><ellipse cx="60.7" cy="44.1" rx="6.72" ry="7.56" fill="url(#gd)" opacity="0.95"/><ellipse cx="67" cy="11.6" rx="3.0" ry="3.5999999999999996" fill="url(#gd)" opacity="0.6"/><ellipse cx="40" cy="19" rx="6.0" ry="2.4" fill="url(#gd)" opacity="0.45"/><ellipse cx="25" cy="33" rx="6.0" ry="2.4" fill="url(#gd)" opacity="0.4" transform="rotate(-30 25 33)"/></g></g></svg>
<svg x="120.5" y="618.5" width="69.7" height="69.6" viewBox="0 0 69.7 69.6" overflow="hidden"><rect width="69.7" height="69.6" fill="#050000"/><g style="isolation:isolate"><g filter="url(#nucf)" style="mix-blend-mode:screen"><ellipse cx="6" cy="16.4" rx="4.73" ry="3.9600000000000004" fill="url(#gn)" opacity="0.6"/><ellipse cx="28.4" cy="19.3" rx="5.28" ry="3.74" fill="url(#gn)" opacity="1"/><ellipse cx="17.6" cy="38.6" rx="5.83" ry="5.28" fill="url(#gn)" opacity="0.9"/><ellipse cx="27" cy="52.5" rx="4.73" ry="5.28" fill="url(#gn)" opacity="0.6"/><ellipse cx="48.7" cy="55" rx="5.28" ry="4.73" fill="url(#gn)" opacity="1"/><ellipse cx="51.1" cy="39.3" rx="4.73" ry="4.73" fill="url(#gn)" opacity="0.6"/><ellipse cx="59.1" cy="42.9" rx="3.9600000000000004" ry="5.28" fill="url(#gn)" opacity="0.6"/><ellipse cx="60.7" cy="26.5" rx="3.9600000000000004" ry="3.9600000000000004" fill="url(#gn)" opacity="0.9"/></g></g></svg>
<svg x="120.5" y="690.9" width="69.7" height="69.6" viewBox="0 0 69.7 69.6" overflow="hidden"><rect width="69.7" height="69.6" fill="#050000"/><g style="isolation:isolate"><g filter="url(#cellf)"><ellipse cx="6.5" cy="17.6" rx="11.969999999999999" ry="6.46" fill="url(#gh)" opacity="0.38"/><ellipse cx="29.9" cy="18.8" rx="16.72" ry="7.31" fill="url(#gh)" opacity="0.38"/><ellipse cx="17.4" cy="39.3" rx="14.44" ry="10.709999999999999" fill="url(#gh)" opacity="0.38" transform="rotate(-20 17.4 39.3)"/><ellipse cx="28.6" cy="52.5" rx="9.5" ry="11.9" fill="url(#gh)" opacity="0.38"/><ellipse cx="49.9" cy="56.2" rx="13.299999999999999" ry="9.52" fill="url(#gh)" opacity="0.38"/><ellipse cx="51.1" cy="39.3" rx="10.639999999999999" ry="10.709999999999999" fill="url(#gh)" opacity="0.361"/><ellipse cx="60.7" cy="28.4" rx="9.5" ry="12.92" fill="url(#gh)" opacity="0.38"/><ellipse cx="60.7" cy="44.1" rx="10.639999999999999" ry="10.709999999999999" fill="url(#gh)" opacity="0.361"/><ellipse cx="67" cy="11.6" rx="4.75" ry="5.1" fill="url(#gh)" opacity="0.22799999999999998"/><ellipse cx="40" cy="19" rx="9.5" ry="3.4" fill="url(#gh)" opacity="0.171"/><ellipse cx="25" cy="33" rx="9.5" ry="3.4" fill="url(#gh)" opacity="0.15200000000000002" transform="rotate(-30 25 33)"/><ellipse cx="6.5" cy="17.6" rx="7.56" ry="4.56" fill="url(#gd)" opacity="1"/><ellipse cx="29.9" cy="18.8" rx="10.56" ry="5.159999999999999" fill="url(#gd)" opacity="1"/><ellipse cx="17.4" cy="39.3" rx="9.12" ry="7.56" fill="url(#gd)" opacity="1" transform="rotate(-20 17.4 39.3)"/><ellipse cx="28.6" cy="52.5" rx="6.0" ry="8.4" fill="url(#gd)" opacity="1"/><ellipse cx="49.9" cy="56.2" rx="8.4" ry="6.72" fill="url(#gd)" opacity="1"/><ellipse cx="51.1" cy="39.3" rx="6.72" ry="7.56" fill="url(#gd)" opacity="0.95"/><ellipse cx="60.7" cy="28.4" rx="6.0" ry="9.12" fill="url(#gd)" opacity="1"/><ellipse cx="60.7" cy="44.1" rx="6.72" ry="7.56" fill="url(#gd)" opacity="0.95"/><ellipse cx="67" cy="11.6" rx="3.0" ry="3.5999999999999996" fill="url(#gd)" opacity="0.6"/><ellipse cx="40" cy="19" rx="6.0" ry="2.4" fill="url(#gd)" opacity="0.45"/><ellipse cx="25" cy="33" rx="6.0" ry="2.4" fill="url(#gd)" opacity="0.4" transform="rotate(-30 25 33)"/></g><g filter="url(#nucf)" style="mix-blend-mode:screen"><ellipse cx="6" cy="16.4" rx="4.73" ry="3.9600000000000004" fill="url(#gn)" opacity="0.6"/><ellipse cx="28.4" cy="19.3" rx="5.28" ry="3.74" fill="url(#gn)" opacity="1"/><ellipse cx="17.6" cy="38.6" rx="5.83" ry="5.28" fill="url(#gn)" opacity="0.9"/><ellipse cx="27" cy="52.5" rx="4.73" ry="5.28" fill="url(#gn)" opacity="0.6"/><ellipse cx="48.7" cy="55" rx="5.28" ry="4.73" fill="url(#gn)" opacity="1"/><ellipse cx="51.1" cy="39.3" rx="4.73" ry="4.73" fill="url(#gn)" opacity="0.6"/><ellipse cx="59.1" cy="42.9" rx="3.9600000000000004" ry="5.28" fill="url(#gn)" opacity="0.6"/><ellipse cx="60.7" cy="26.5" rx="3.9600000000000004" ry="3.9600000000000004" fill="url(#gn)" opacity="0.9"/></g></g></svg>
<svg x="194.1" y="545.8" width="69.7" height="69.6" viewBox="0 0 69.7 69.6" overflow="hidden"><rect width="69.7" height="69.6" fill="#050000"/><g style="isolation:isolate"><g filter="url(#cellf)"><ellipse cx="47.7" cy="6.7" rx="7.22" ry="9.52" fill="url(#gh)" opacity="0.38"/><ellipse cx="32" cy="20" rx="9.5" ry="6.46" fill="url(#gh)" opacity="0.38" transform="rotate(30 32 20)"/><ellipse cx="22.4" cy="35.7" rx="8.549999999999999" ry="8.5" fill="url(#gh)" opacity="0.38" transform="rotate(20 22.4 35.7)"/><ellipse cx="42.9" cy="35.7" rx="7.6" ry="7.6499999999999995" fill="url(#gh)" opacity="0.38"/><ellipse cx="53.7" cy="28.4" rx="7.6" ry="6.8" fill="url(#gh)" opacity="0.38"/><ellipse cx="59.8" cy="42.9" rx="10.639999999999999" ry="10.709999999999999" fill="url(#gh)" opacity="0.38"/><ellipse cx="15.2" cy="56.2" rx="8.549999999999999" ry="10.709999999999999" fill="url(#gh)" opacity="0.38"/><ellipse cx="28.4" cy="56.2" rx="7.22" ry="10.709999999999999" fill="url(#gh)" opacity="0.38" transform="rotate(20 28.4 56.2)"/><ellipse cx="65" cy="2" rx="5.699999999999999" ry="3.4" fill="url(#gh)" opacity="0.22799999999999998"/><ellipse cx="20" cy="46" rx="5.699999999999999" ry="13.6" fill="url(#gh)" opacity="0.15200000000000002" transform="rotate(30 20 46)"/><ellipse cx="34" cy="45" rx="5.699999999999999" ry="11.9" fill="url(#gh)" opacity="0.15200000000000002" transform="rotate(30 34 45)"/><ellipse cx="47.7" cy="6.7" rx="4.56" ry="6.72" fill="url(#gd)" opacity="1"/><ellipse cx="32" cy="20" rx="6.0" ry="4.56" fill="url(#gd)" opacity="1" transform="rotate(30 32 20)"/><ellipse cx="22.4" cy="35.7" rx="5.3999999999999995" ry="6.0" fill="url(#gd)" opacity="1" transform="rotate(20 22.4 35.7)"/><ellipse cx="42.9" cy="35.7" rx="4.8" ry="5.3999999999999995" fill="url(#gd)" opacity="1"/><ellipse cx="53.7" cy="28.4" rx="4.8" ry="4.8" fill="url(#gd)" opacity="1"/><ellipse cx="59.8" cy="42.9" rx="6.72" ry="7.56" fill="url(#gd)" opacity="1"/><ellipse cx="15.2" cy="56.2" rx="5.3999999999999995" ry="7.56" fill="url(#gd)" opacity="1"/><ellipse cx="28.4" cy="56.2" rx="4.56" ry="7.56" fill="url(#gd)" opacity="1" transform="rotate(20 28.4 56.2)"/><ellipse cx="65" cy="2" rx="3.5999999999999996" ry="2.4" fill="url(#gd)" opacity="0.6"/><ellipse cx="20" cy="46" rx="3.5999999999999996" ry="9.6" fill="url(#gd)" opacity="0.4" transform="rotate(30 20 46)"/><ellipse cx="34" cy="45" rx="3.5999999999999996" ry="8.4" fill="url(#gd)" opacity="0.4" transform="rotate(30 34 45)"/></g></g></svg>
<svg x="194.1" y="618.5" width="69.7" height="69.6" viewBox="0 0 69.7 69.6" overflow="hidden"><rect width="69.7" height="69.6" fill="#050000"/><g style="isolation:isolate"><g filter="url(#nucf)" style="mix-blend-mode:screen"><ellipse cx="46.8" cy="7.2" rx="2.8600000000000003" ry="5.83" fill="url(#gn)" opacity="1"/><ellipse cx="31.6" cy="20" rx="5.28" ry="3.74" fill="url(#gn)" opacity="1" transform="rotate(30 31.6 20)"/><ellipse cx="21.4" cy="35.2" rx="3.74" ry="5.28" fill="url(#gn)" opacity="1" transform="rotate(20 21.4 35.2)"/><ellipse cx="41.9" cy="36.2" rx="2.8600000000000003" ry="3.9600000000000004" fill="url(#gn)" opacity="1"/><ellipse cx="52.8" cy="28" rx="3.74" ry="3.74" fill="url(#gn)" opacity="1"/><ellipse cx="59.3" cy="42.9" rx="5.28" ry="5.83" fill="url(#gn)" opacity="0.8"/><ellipse cx="13.5" cy="55" rx="3.9600000000000004" ry="4.73" fill="url(#gn)" opacity="0.8"/><ellipse cx="28.7" cy="55.4" rx="3.9600000000000004" ry="5.83" fill="url(#gn)" opacity="1" transform="rotate(10 28.7 55.4)"/></g></g></svg>
<svg x="194.1" y="690.9" width="69.7" height="69.6" viewBox="0 0 69.7 69.6" overflow="hidden"><rect width="69.7" height="69.6" fill="#050000"/><g style="isolation:isolate"><g filter="url(#cellf)"><ellipse cx="47.7" cy="6.7" rx="7.22" ry="9.52" fill="url(#gh)" opacity="0.38"/><ellipse cx="32" cy="20" rx="9.5" ry="6.46" fill="url(#gh)" opacity="0.38" transform="rotate(30 32 20)"/><ellipse cx="22.4" cy="35.7" rx="8.549999999999999" ry="8.5" fill="url(#gh)" opacity="0.38" transform="rotate(20 22.4 35.7)"/><ellipse cx="42.9" cy="35.7" rx="7.6" ry="7.6499999999999995" fill="url(#gh)" opacity="0.38"/><ellipse cx="53.7" cy="28.4" rx="7.6" ry="6.8" fill="url(#gh)" opacity="0.38"/><ellipse cx="59.8" cy="42.9" rx="10.639999999999999" ry="10.709999999999999" fill="url(#gh)" opacity="0.38"/><ellipse cx="15.2" cy="56.2" rx="8.549999999999999" ry="10.709999999999999" fill="url(#gh)" opacity="0.38"/><ellipse cx="28.4" cy="56.2" rx="7.22" ry="10.709999999999999" fill="url(#gh)" opacity="0.38" transform="rotate(20 28.4 56.2)"/><ellipse cx="65" cy="2" rx="5.699999999999999" ry="3.4" fill="url(#gh)" opacity="0.22799999999999998"/><ellipse cx="20" cy="46" rx="5.699999999999999" ry="13.6" fill="url(#gh)" opacity="0.15200000000000002" transform="rotate(30 20 46)"/><ellipse cx="34" cy="45" rx="5.699999999999999" ry="11.9" fill="url(#gh)" opacity="0.15200000000000002" transform="rotate(30 34 45)"/><ellipse cx="47.7" cy="6.7" rx="4.56" ry="6.72" fill="url(#gd)" opacity="1"/><ellipse cx="32" cy="20" rx="6.0" ry="4.56" fill="url(#gd)" opacity="1" transform="rotate(30 32 20)"/><ellipse cx="22.4" cy="35.7" rx="5.3999999999999995" ry="6.0" fill="url(#gd)" opacity="1" transform="rotate(20 22.4 35.7)"/><ellipse cx="42.9" cy="35.7" rx="4.8" ry="5.3999999999999995" fill="url(#gd)" opacity="1"/><ellipse cx="53.7" cy="28.4" rx="4.8" ry="4.8" fill="url(#gd)" opacity="1"/><ellipse cx="59.8" cy="42.9" rx="6.72" ry="7.56" fill="url(#gd)" opacity="1"/><ellipse cx="15.2" cy="56.2" rx="5.3999999999999995" ry="7.56" fill="url(#gd)" opacity="1"/><ellipse cx="28.4" cy="56.2" rx="4.56" ry="7.56" fill="url(#gd)" opacity="1" transform="rotate(20 28.4 56.2)"/><ellipse cx="65" cy="2" rx="3.5999999999999996" ry="2.4" fill="url(#gd)" opacity="0.6"/><ellipse cx="20" cy="46" rx="3.5999999999999996" ry="9.6" fill="url(#gd)" opacity="0.4" transform="rotate(30 20 46)"/><ellipse cx="34" cy="45" rx="3.5999999999999996" ry="8.4" fill="url(#gd)" opacity="0.4" transform="rotate(30 34 45)"/></g><g filter="url(#nucf)" style="mix-blend-mode:screen"><ellipse cx="46.8" cy="7.2" rx="2.8600000000000003" ry="5.83" fill="url(#gn)" opacity="1"/><ellipse cx="31.6" cy="20" rx="5.28" ry="3.74" fill="url(#gn)" opacity="1" transform="rotate(30 31.6 20)"/><ellipse cx="21.4" cy="35.2" rx="3.74" ry="5.28" fill="url(#gn)" opacity="1" transform="rotate(20 21.4 35.2)"/><ellipse cx="41.9" cy="36.2" rx="2.8600000000000003" ry="3.9600000000000004" fill="url(#gn)" opacity="1"/><ellipse cx="52.8" cy="28" rx="3.74" ry="3.74" fill="url(#gn)" opacity="1"/><ellipse cx="59.3" cy="42.9" rx="5.28" ry="5.83" fill="url(#gn)" opacity="0.8"/><ellipse cx="13.5" cy="55" rx="3.9600000000000004" ry="4.73" fill="url(#gn)" opacity="0.8"/><ellipse cx="28.7" cy="55.4" rx="3.9600000000000004" ry="5.83" fill="url(#gn)" opacity="1" transform="rotate(10 28.7 55.4)"/></g></g></svg>
<text x="82.30" y="267.80" font-family="'Liberation Sans', Arial, Helvetica, sans-serif" font-size="12.8" font-weight="bold" fill="#000" text-anchor="middle" >RPDC-HI</text>
<text x="157.20" y="267.80" font-family="'Liberation Sans', Arial, Helvetica, sans-serif" font-size="12.8" font-weight="bold" fill="#000" text-anchor="middle" >RPDC-H</text>
<text x="230.50" y="267.80" font-family="'Liberation Sans', Arial, Helvetica, sans-serif" font-size="12.8" font-weight="bold" fill="#000" text-anchor="middle" >RPDC-I</text>
<text x="82.50" y="542.80" font-family="'Liberation Sans', Arial, Helvetica, sans-serif" font-size="12.8" font-weight="bold" fill="#000" text-anchor="middle" >RPDC-HI</text>
<text x="156.90" y="542.80" font-family="'Liberation Sans', Arial, Helvetica, sans-serif" font-size="12.8" font-weight="bold" fill="#000" text-anchor="middle" >RPDC-H</text>
<text x="231.50" y="542.80" font-family="'Liberation Sans', Arial, Helvetica, sans-serif" font-size="12.8" font-weight="bold" fill="#000" text-anchor="middle" >RPDC-I</text>
<text transform="translate(39.50,303.80) rotate(-90)" font-family="'Liberation Sans', Arial, Helvetica, sans-serif" font-size="12.9" font-weight="bold" fill="#e0262a" text-anchor="middle">DOX</text>
<text transform="translate(39.50,376.70) rotate(-90)" font-family="'Liberation Sans', Arial, Helvetica, sans-serif" font-size="12.9" font-weight="bold" fill="#2525c8" text-anchor="middle">Nucleus</text>
<text transform="translate(39.50,450.50) rotate(-90)" font-family="'Liberation Sans', Arial, Helvetica, sans-serif" font-size="12.9" font-weight="bold" fill="#000" text-anchor="middle">Merger</text>
<text transform="translate(39.50,578.00) rotate(-90)" font-family="'Liberation Sans', Arial, Helvetica, sans-serif" font-size="12.9" font-weight="bold" fill="#e0262a" text-anchor="middle">DOX</text>
<text transform="translate(39.50,650.60) rotate(-90)" font-family="'Liberation Sans', Arial, Helvetica, sans-serif" font-size="12.9" font-weight="bold" fill="#2525c8" text-anchor="middle">Nucleus</text>
<text transform="translate(39.50,723.00) rotate(-90)" font-family="'Liberation Sans', Arial, Helvetica, sans-serif" font-size="12.9" font-weight="bold" fill="#000" text-anchor="middle">Merger</text>
<line x1="333.60" y1="276.80" x2="333.60" y2="457.50" stroke="#000" stroke-width="2.0" stroke-linecap="butt"/>
<line x1="326.40" y1="456.50" x2="333.60" y2="456.50" stroke="#000" stroke-width="2.0" stroke-linecap="butt"/>
<text x="324.00" y="461.15" font-family="'Liberation Sans', Arial, Helvetica, sans-serif" font-size="13.0" font-weight="bold" fill="#000" text-anchor="end" >0</text>
<line x1="326.40" y1="411.57" x2="333.60" y2="411.57" stroke="#000" stroke-width="2.0" stroke-linecap="butt"/>
<text x="324.00" y="416.23" font-family="'Liberation Sans', Arial, Helvetica, sans-serif" font-size="13.0" font-weight="bold" fill="#000" text-anchor="end" >50</text>
<line x1="326.40" y1="366.65" x2="333.60" y2="366.65" stroke="#000" stroke-width="2.0" stroke-linecap="butt"/>
<text x="324.00" y="371.30" font-family="'Liberation Sans', Arial, Helvetica, sans-serif" font-size="13.0" font-weight="bold" fill="#000" text-anchor="end" >100</text>
<line x1="326.40" y1="321.73" x2="333.60" y2="321.73" stroke="#000" stroke-width="2.0" stroke-linecap="butt"/>
<text x="324.00" y="326.38" font-family="'Liberation Sans', Arial, Helvetica, sans-serif" font-size="13.0" font-weight="bold" fill="#000" text-anchor="end" >150</text>
<line x1="326.40" y1="276.80" x2="333.60" y2="276.80" stroke="#000" stroke-width="2.0" stroke-linecap="butt"/>
<text x="324.00" y="281.45" font-family="'Liberation Sans', Arial, Helvetica, sans-serif" font-size="13.0" font-weight="bold" fill="#000" text-anchor="end" >200</text>
<path d="M347.20,456.50 L347.20,349.73 L368.20,349.73 L368.20,456.50" fill="none" stroke="#e8878a" stroke-width="3.0" stroke-linejoin="miter"/>
<line x1="357.70" y1="373.39" x2="357.70" y2="321.73" stroke="#e8878a" stroke-width="1.3" stroke-linecap="butt"/>
<line x1="351.70" y1="321.73" x2="363.70" y2="321.73" stroke="#e8878a" stroke-width="1.3" stroke-linecap="butt"/>
<line x1="351.70" y1="373.39" x2="363.70" y2="373.39" stroke="#e8878a" stroke-width="1.3" stroke-linecap="butt"/>
<path d="M383.20,456.50 L383.20,363.21 L404.20,363.21 L404.20,456.50" fill="none" stroke="#2a7ad6" stroke-width="3.0" stroke-linejoin="miter"/>
<line x1="393.70" y1="375.63" x2="393.70" y2="345.45" stroke="#2a7ad6" stroke-width="1.3" stroke-linecap="butt"/>
<line x1="387.70" y1="345.45" x2="399.70" y2="345.45" stroke="#2a7ad6" stroke-width="1.3" stroke-linecap="butt"/>
<line x1="387.70" y1="375.63" x2="399.70" y2="375.63" stroke="#2a7ad6" stroke-width="1.3" stroke-linecap="butt"/>
<path d="M419.20,456.50 L419.20,370.40 L440.20,370.40 L440.20,456.50" fill="none" stroke="#25962a" stroke-width="3.0" stroke-linejoin="miter"/>
<line x1="429.70" y1="388.21" x2="429.70" y2="349.58" stroke="#25962a" stroke-width="1.3" stroke-linecap="butt"/>
<line x1="423.70" y1="349.58" x2="435.70" y2="349.58" stroke="#25962a" stroke-width="1.3" stroke-linecap="butt"/>
<line x1="423.70" y1="388.21" x2="435.70" y2="388.21" stroke="#25962a" stroke-width="1.3" stroke-linecap="butt"/>
<circle cx="359.50" cy="292.07" r="1.9" fill="#e8878a"/>
<circle cx="355.10" cy="294.77" r="1.9" fill="#e8878a"/>
<circle cx="359.50" cy="298.36" r="1.9" fill="#e8878a"/>
<circle cx="353.29" cy="334.30" r="1.9" fill="#e8878a"/>
<circle cx="357.62" cy="335.20" r="1.9" fill="#e8878a"/>
<circle cx="356.79" cy="337.00" r="1.9" fill="#e8878a"/>
<circle cx="360.43" cy="339.69" r="1.9" fill="#e8878a"/>
<circle cx="362.90" cy="341.49" r="1.9" fill="#e8878a"/>
<circle cx="350.39" cy="344.19" r="1.9" fill="#e8878a"/>
<circle cx="349.21" cy="346.88" r="1.9" fill="#e8878a"/>
<circle cx="363.74" cy="348.68" r="1.9" fill="#e8878a"/>
<circle cx="356.49" cy="353.17" r="1.9" fill="#e8878a"/>
<circle cx="362.42" cy="355.87" r="1.9" fill="#e8878a"/>
<circle cx="348.74" cy="359.46" r="1.9" fill="#e8878a"/>
<circle cx="356.72" cy="363.95" r="1.9" fill="#e8878a"/>
<circle cx="361.69" cy="366.65" r="1.9" fill="#e8878a"/>
<circle cx="352.82" cy="366.65" r="1.9" fill="#e8878a"/>
<circle cx="365.71" cy="368.45" r="1.9" fill="#e8878a"/>
<circle cx="364.93" cy="371.14" r="1.9" fill="#e8878a"/>
<circle cx="349.25" cy="372.94" r="1.9" fill="#e8878a"/>
<circle cx="349.16" cy="375.63" r="1.9" fill="#e8878a"/>
<circle cx="358.45" cy="377.43" r="1.9" fill="#e8878a"/>
<circle cx="401.91" cy="337.90" r="1.9" fill="#2a7ad6"/>
<circle cx="401.76" cy="341.49" r="1.9" fill="#2a7ad6"/>
<circle cx="385.72" cy="343.29" r="1.9" fill="#2a7ad6"/>
<circle cx="386.23" cy="344.19" r="1.9" fill="#2a7ad6"/>
<circle cx="399.74" cy="346.88" r="1.9" fill="#2a7ad6"/>
<circle cx="397.95" cy="348.68" r="1.9" fill="#2a7ad6"/>
<circle cx="396.76" cy="350.48" r="1.9" fill="#2a7ad6"/>
<circle cx="390.25" cy="353.17" r="1.9" fill="#2a7ad6"/>
<circle cx="395.61" cy="355.87" r="1.9" fill="#2a7ad6"/>
<circle cx="395.62" cy="359.46" r="1.9" fill="#2a7ad6"/>
<circle cx="395.16" cy="361.26" r="1.9" fill="#2a7ad6"/>
<circle cx="387.55" cy="362.16" r="1.9" fill="#2a7ad6"/>
<circle cx="392.45" cy="363.95" r="1.9" fill="#2a7ad6"/>
<circle cx="391.78" cy="366.65" r="1.9" fill="#2a7ad6"/>
<circle cx="397.71" cy="368.45" r="1.9" fill="#2a7ad6"/>
<circle cx="402.61" cy="371.14" r="1.9" fill="#2a7ad6"/>
<circle cx="401.79" cy="375.63" r="1.9" fill="#2a7ad6"/>
<circle cx="394.50" cy="380.13" r="1.9" fill="#2a7ad6"/>
<circle cx="392.71" cy="384.62" r="1.9" fill="#2a7ad6"/>
<circle cx="389.53" cy="387.32" r="1.9" fill="#2a7ad6"/>
<circle cx="385.35" cy="389.11" r="1.9" fill="#2a7ad6"/>
<circle cx="429.70" cy="326.22" r="1.9" fill="#25962a"/>
<circle cx="430.50" cy="343.29" r="1.9" fill="#25962a"/>
<circle cx="427.36" cy="345.09" r="1.9" fill="#25962a"/>
<circle cx="431.57" cy="346.88" r="1.9" fill="#25962a"/>
<circle cx="431.96" cy="350.48" r="1.9" fill="#25962a"/>
<circle cx="421.88" cy="353.17" r="1.9" fill="#25962a"/>
<circle cx="420.94" cy="357.67" r="1.9" fill="#25962a"/>
<circle cx="435.77" cy="359.46" r="1.9" fill="#25962a"/>
<circle cx="425.37" cy="363.06" r="1.9" fill="#25962a"/>
<circle cx="424.92" cy="366.65" r="1.9" fill="#25962a"/>
<circle cx="438.62" cy="368.45" r="1.9" fill="#25962a"/>
<circle cx="429.16" cy="371.14" r="1.9" fill="#25962a"/>
<circle cx="435.76" cy="373.84" r="1.9" fill="#25962a"/>
<circle cx="429.27" cy="377.43" r="1.9" fill="#25962a"/>
<circle cx="432.20" cy="380.13" r="1.9" fill="#25962a"/>
<circle cx="423.41" cy="382.82" r="1.9" fill="#25962a"/>
<circle cx="432.13" cy="384.62" r="1.9" fill="#25962a"/>
<circle cx="436.32" cy="386.42" r="1.9" fill="#25962a"/>
<circle cx="430.12" cy="389.11" r="1.9" fill="#25962a"/>
<circle cx="434.04" cy="391.81" r="1.9" fill="#25962a"/>
<circle cx="432.79" cy="397.20" r="1.9" fill="#25962a"/>
<line x1="326.30" y1="456.50" x2="453.90" y2="456.50" stroke="#000" stroke-width="2.0" stroke-linecap="butt"/>
<line x1="357.70" y1="456.50" x2="357.70" y2="464.00" stroke="#000" stroke-width="2.0" stroke-linecap="butt"/>
<line x1="393.70" y1="456.50" x2="393.70" y2="464.00" stroke="#000" stroke-width="2.0" stroke-linecap="butt"/>
<line x1="429.70" y1="456.50" x2="429.70" y2="464.00" stroke="#000" stroke-width="2.0" stroke-linecap="butt"/>
<polyline points="359.50,287.10 359.50,278.10 396.00,278.10 396.00,287.10" stroke="#000" stroke-width="1.6" fill="none" stroke-linejoin="miter" />
<polyline points="359.50,278.10 359.50,266.80 430.40,266.80 430.40,279.30" stroke="#000" stroke-width="1.6" fill="none" stroke-linejoin="miter" />
<text x="378.60" y="279.20" font-family="'Liberation Sans', Arial, Helvetica, sans-serif" font-size="11" font-weight="bold" fill="#000" text-anchor="middle" >*</text>
<text x="395.50" y="268.80" font-family="'Liberation Sans', Arial, Helvetica, sans-serif" font-size="11" font-weight="bold" fill="#000" text-anchor="middle" >**</text>
<text transform="translate(292.40,365.60) rotate(-90)" font-family="'Liberation Sans', Arial, Helvetica, sans-serif" font-size="15" font-weight="bold" fill="#000" text-anchor="middle">FL intensity (a.u.)</text>
<text transform="translate(360.90,480.10) rotate(-45)" font-family="'Liberation Sans', Arial, Helvetica, sans-serif" font-size="13.0" font-weight="bold" fill="#000" text-anchor="end">RPDC-HI</text>
<text transform="translate(396.90,480.10) rotate(-45)" font-family="'Liberation Sans', Arial, Helvetica, sans-serif" font-size="13.0" font-weight="bold" fill="#000" text-anchor="end">RPDC-H</text>
<text transform="translate(432.90,480.10) rotate(-45)" font-family="'Liberation Sans', Arial, Helvetica, sans-serif" font-size="13.0" font-weight="bold" fill="#000" text-anchor="end">RPDC-I</text>
<line x1="780.00" y1="275.30" x2="780.00" y2="453.30" stroke="#000" stroke-width="2.0" stroke-linecap="butt"/>
<line x1="772.80" y1="452.30" x2="780.00" y2="452.30" stroke="#000" stroke-width="2.0" stroke-linecap="butt"/>
<text x="770.00" y="456.99" font-family="'Liberation Sans', Arial, Helvetica, sans-serif" font-size="13.1" font-weight="bold" fill="#000" text-anchor="end" >0</text>
<line x1="772.80" y1="408.05" x2="780.00" y2="408.05" stroke="#000" stroke-width="2.0" stroke-linecap="butt"/>
<text x="770.00" y="412.74" font-family="'Liberation Sans', Arial, Helvetica, sans-serif" font-size="13.1" font-weight="bold" fill="#000" text-anchor="end" >1,000</text>
<line x1="772.80" y1="363.80" x2="780.00" y2="363.80" stroke="#000" stroke-width="2.0" stroke-linecap="butt"/>
<text x="770.00" y="368.49" font-family="'Liberation Sans', Arial, Helvetica, sans-serif" font-size="13.1" font-weight="bold" fill="#000" text-anchor="end" >2,000</text>
<line x1="772.80" y1="319.55" x2="780.00" y2="319.55" stroke="#000" stroke-width="2.0" stroke-linecap="butt"/>
<text x="770.00" y="324.24" font-family="'Liberation Sans', Arial, Helvetica, sans-serif" font-size="13.1" font-weight="bold" fill="#000" text-anchor="end" >3,000</text>
<line x1="772.80" y1="275.30" x2="780.00" y2="275.30" stroke="#000" stroke-width="2.0" stroke-linecap="butt"/>
<text x="770.00" y="279.99" font-family="'Liberation Sans', Arial, Helvetica, sans-serif" font-size="13.1" font-weight="bold" fill="#000" text-anchor="end" >4,000</text>
<path d="M790.60,452.30 L790.60,437.33 L805.40,437.33 L805.40,452.30" fill="none" stroke="#6a6a6a" stroke-width="2.8" stroke-linejoin="miter"/>
<circle cx="793.00" cy="434.60" r="2.4" fill="#6a6a6a"/>
<circle cx="798.00" cy="435.49" r="2.4" fill="#6a6a6a"/>
<circle cx="803.00" cy="436.37" r="2.4" fill="#6a6a6a"/>
<path d="M817.40,452.30 L817.40,321.39 L832.20,321.39 L832.20,452.30" fill="none" stroke="#e8878a" stroke-width="2.8" stroke-linejoin="miter"/>
<line x1="824.80" y1="336.37" x2="824.80" y2="304.95" stroke="#e8878a" stroke-width="1.3" stroke-linecap="butt"/>
<line x1="820.80" y1="304.95" x2="828.80" y2="304.95" stroke="#e8878a" stroke-width="1.3" stroke-linecap="butt"/>
<line x1="820.80" y1="336.37" x2="828.80" y2="336.37" stroke="#e8878a" stroke-width="1.3" stroke-linecap="butt"/>
<circle cx="824.80" cy="304.95" r="2.6" fill="#e8878a"/>
<circle cx="824.80" cy="316.89" r="2.6" fill="#e8878a"/>
<circle cx="824.80" cy="336.37" r="2.6" fill="#e8878a"/>
<path d="M844.80,452.30 L844.80,380.91 L859.60,380.91 L859.60,452.30" fill="none" stroke="#2a7ad6" stroke-width="2.8" stroke-linejoin="miter"/>
<circle cx="852.20" cy="376.63" r="2.5" fill="#2a7ad6"/>
<circle cx="846.70" cy="379.73" r="2.5" fill="#2a7ad6"/>
<circle cx="857.70" cy="380.62" r="2.5" fill="#2a7ad6"/>
<path d="M871.90,452.30 L871.90,395.73 L886.70,395.73 L886.70,452.30" fill="none" stroke="#25962a" stroke-width="2.8" stroke-linejoin="miter"/>
<circle cx="879.30" cy="393.00" r="2.5" fill="#25962a"/>
<circle cx="873.80" cy="394.78" r="2.5" fill="#25962a"/>
<circle cx="884.80" cy="395.22" r="2.5" fill="#25962a"/>
<line x1="772.70" y1="452.30" x2="898.70" y2="452.30" stroke="#000" stroke-width="2.0" stroke-linecap="butt"/>
<line x1="798.00" y1="452.30" x2="798.00" y2="459.80" stroke="#000" stroke-width="2.0" stroke-linecap="butt"/>
<line x1="824.80" y1="452.30" x2="824.80" y2="459.80" stroke="#000" stroke-width="2.0" stroke-linecap="butt"/>
<line x1="852.20" y1="452.30" x2="852.20" y2="459.80" stroke="#000" stroke-width="2.0" stroke-linecap="butt"/>
<line x1="879.30" y1="452.30" x2="879.30" y2="459.80" stroke="#000" stroke-width="2.0" stroke-linecap="butt"/>
<polyline points="822.70,298.70 822.70,279.50 888.50,279.50 888.50,289.30" stroke="#000" stroke-width="1.6" fill="none" stroke-linejoin="miter" />
<polyline points="822.70,298.70 822.70,288.20 855.30,288.20 855.30,298.70" stroke="#000" stroke-width="1.6" fill="none" stroke-linejoin="miter" />
<polyline points="852.70,366.40 852.70,357.70 885.70,357.70 885.70,366.40" stroke="#000" stroke-width="1.6" fill="none" stroke-linejoin="miter" />
<text x="855.90" y="281.00" font-family="'Liberation Sans', Arial, Helvetica, sans-serif" font-size="11" font-weight="bold" fill="#000" text-anchor="middle" >**</text>
<text x="839.00" y="290.50" font-family="'Liberation Sans', Arial, Helvetica, sans-serif" font-size="11" font-weight="bold" fill="#000" text-anchor="middle" >**</text>
<text x="869.00" y="358.50" font-family="'Liberation Sans', Arial, Helvetica, sans-serif" font-size="11" font-weight="bold" fill="#000" text-anchor="middle" >**</text>
<text transform="translate(727.60,363.20) rotate(-90)" font-family="'Liberation Sans', Arial, Helvetica, sans-serif" font-size="14.7" font-weight="bold" fill="#000" text-anchor="middle">FL intensity (a.u.)</text>
<text transform="translate(801.20,472.80) rotate(-45)" font-family="'Liberation Sans', Arial, Helvetica, sans-serif" font-size="13.0" font-weight="bold" fill="#000" text-anchor="end">Control</text>
<text transform="translate(828.00,472.80) rotate(-45)" font-family="'Liberation Sans', Arial, Helvetica, sans-serif" font-size="13.0" font-weight="bold" fill="#000" text-anchor="end">RPDC-HI</text>
<text transform="translate(855.40,472.80) rotate(-45)" font-family="'Liberation Sans', Arial, Helvetica, sans-serif" font-size="13.0" font-weight="bold" fill="#000" text-anchor="end">RPDC-H</text>
<text transform="translate(882.50,472.80) rotate(-45)" font-family="'Liberation Sans', Arial, Helvetica, sans-serif" font-size="13.0" font-weight="bold" fill="#000" text-anchor="end">RPDC-I</text>
<line x1="332.30" y1="560.50" x2="332.30" y2="741.40" stroke="#000" stroke-width="2.0" stroke-linecap="butt"/>
<line x1="325.10" y1="740.40" x2="332.30" y2="740.40" stroke="#000" stroke-width="2.0" stroke-linecap="butt"/>
<text x="322.60" y="745.05" font-family="'Liberation Sans', Arial, Helvetica, sans-serif" font-size="13.0" font-weight="bold" fill="#000" text-anchor="end" >0</text>
<line x1="325.10" y1="704.42" x2="332.30" y2="704.42" stroke="#000" stroke-width="2.0" stroke-linecap="butt"/>
<text x="322.60" y="709.07" font-family="'Liberation Sans', Arial, Helvetica, sans-serif" font-size="13.0" font-weight="bold" fill="#000" text-anchor="end" >50</text>
<line x1="325.10" y1="668.44" x2="332.30" y2="668.44" stroke="#000" stroke-width="2.0" stroke-linecap="butt"/>
<text x="322.60" y="673.09" font-family="'Liberation Sans', Arial, Helvetica, sans-serif" font-size="13.0" font-weight="bold" fill="#000" text-anchor="end" >100</text>
<line x1="325.10" y1="632.46" x2="332.30" y2="632.46" stroke="#000" stroke-width="2.0" stroke-linecap="butt"/>
<text x="322.60" y="637.11" font-family="'Liberation Sans', Arial, Helvetica, sans-serif" font-size="13.0" font-weight="bold" fill="#000" text-anchor="end" >150</text>
<line x1="325.10" y1="596.48" x2="332.30" y2="596.48" stroke="#000" stroke-width="2.0" stroke-linecap="butt"/>
<text x="322.60" y="601.13" font-family="'Liberation Sans', Arial, Helvetica, sans-serif" font-size="13.0" font-weight="bold" fill="#000" text-anchor="end" >200</text>
<line x1="325.10" y1="560.50" x2="332.30" y2="560.50" stroke="#000" stroke-width="2.0" stroke-linecap="butt"/>
<text x="322.60" y="565.15" font-family="'Liberation Sans', Arial, Helvetica, sans-serif" font-size="13.0" font-weight="bold" fill="#000" text-anchor="end" >250</text>
<path d="M345.75,740.40 L345.75,600.14 L366.25,600.14 L366.25,740.40" fill="none" stroke="#e8878a" stroke-width="3.0" stroke-linejoin="miter"/>
<line x1="356.00" y1="612.31" x2="356.00" y2="585.69" stroke="#e8878a" stroke-width="1.3" stroke-linecap="butt"/>
<line x1="350.00" y1="585.69" x2="362.00" y2="585.69" stroke="#e8878a" stroke-width="1.3" stroke-linecap="butt"/>
<line x1="350.00" y1="612.31" x2="362.00" y2="612.31" stroke="#e8878a" stroke-width="1.3" stroke-linecap="butt"/>
<path d="M381.75,740.40 L381.75,662.74 L402.25,662.74 L402.25,740.40" fill="none" stroke="#2a7ad6" stroke-width="3.0" stroke-linejoin="miter"/>
<line x1="392.00" y1="675.64" x2="392.00" y2="645.41" stroke="#2a7ad6" stroke-width="1.3" stroke-linecap="butt"/>
<line x1="386.00" y1="645.41" x2="398.00" y2="645.41" stroke="#2a7ad6" stroke-width="1.3" stroke-linecap="butt"/>
<line x1="386.00" y1="675.64" x2="398.00" y2="675.64" stroke="#2a7ad6" stroke-width="1.3" stroke-linecap="butt"/>
<path d="M417.75,740.40 L417.75,653.03 L438.25,653.03 L438.25,740.40" fill="none" stroke="#25962a" stroke-width="3.0" stroke-linejoin="miter"/>
<line x1="428.00" y1="670.60" x2="428.00" y2="631.02" stroke="#25962a" stroke-width="1.3" stroke-linecap="butt"/>
<line x1="422.00" y1="631.02" x2="434.00" y2="631.02" stroke="#25962a" stroke-width="1.3" stroke-linecap="butt"/>
<line x1="422.00" y1="670.60" x2="434.00" y2="670.60" stroke="#25962a" stroke-width="1.3" stroke-linecap="butt"/>
<circle cx="351.25" cy="576.33" r="1.9" fill="#e8878a"/>
<circle cx="348.86" cy="583.53" r="1.9" fill="#e8878a"/>
<circle cx="354.13" cy="584.97" r="1.9" fill="#e8878a"/>
<circle cx="349.79" cy="585.69" r="1.9" fill="#e8878a"/>
<circle cx="348.20" cy="587.13" r="1.9" fill="#e8878a"/>
<circle cx="354.23" cy="587.84" r="1.9" fill="#e8878a"/>
<circle cx="363.52" cy="589.28" r="1.9" fill="#e8878a"/>
<circle cx="361.41" cy="592.88" r="1.9" fill="#e8878a"/>
<circle cx="360.77" cy="595.04" r="1.9" fill="#e8878a"/>
<circle cx="350.99" cy="596.48" r="1.9" fill="#e8878a"/>
<circle cx="356.66" cy="597.92" r="1.9" fill="#e8878a"/>
<circle cx="351.98" cy="600.08" r="1.9" fill="#e8878a"/>
<circle cx="350.11" cy="602.24" r="1.9" fill="#e8878a"/>
<circle cx="348.91" cy="603.68" r="1.9" fill="#e8878a"/>
<circle cx="350.86" cy="606.55" r="1.9" fill="#e8878a"/>
<circle cx="363.69" cy="610.87" r="1.9" fill="#e8878a"/>
<circle cx="361.92" cy="613.75" r="1.9" fill="#e8878a"/>
<circle cx="361.52" cy="616.63" r="1.9" fill="#e8878a"/>
<circle cx="361.41" cy="619.51" r="1.9" fill="#e8878a"/>
<circle cx="350.48" cy="622.39" r="1.9" fill="#e8878a"/>
<circle cx="352.58" cy="627.42" r="1.9" fill="#e8878a"/>
<circle cx="394.21" cy="632.46" r="1.9" fill="#2a7ad6"/>
<circle cx="396.35" cy="635.34" r="1.9" fill="#2a7ad6"/>
<circle cx="397.31" cy="639.66" r="1.9" fill="#2a7ad6"/>
<circle cx="399.96" cy="643.25" r="1.9" fill="#2a7ad6"/>
<circle cx="396.32" cy="645.41" r="1.9" fill="#2a7ad6"/>
<circle cx="399.60" cy="648.29" r="1.9" fill="#2a7ad6"/>
<circle cx="383.52" cy="650.45" r="1.9" fill="#2a7ad6"/>
<circle cx="391.38" cy="652.61" r="1.9" fill="#2a7ad6"/>
<circle cx="399.98" cy="655.49" r="1.9" fill="#2a7ad6"/>
<circle cx="394.68" cy="657.65" r="1.9" fill="#2a7ad6"/>
<circle cx="399.22" cy="659.80" r="1.9" fill="#2a7ad6"/>
<circle cx="385.04" cy="661.24" r="1.9" fill="#2a7ad6"/>
<circle cx="391.44" cy="664.84" r="1.9" fill="#2a7ad6"/>
<circle cx="387.44" cy="667.00" r="1.9" fill="#2a7ad6"/>
<circle cx="392.79" cy="668.44" r="1.9" fill="#2a7ad6"/>
<circle cx="393.33" cy="669.88" r="1.9" fill="#2a7ad6"/>
<circle cx="383.24" cy="672.04" r="1.9" fill="#2a7ad6"/>
<circle cx="386.90" cy="674.20" r="1.9" fill="#2a7ad6"/>
<circle cx="388.03" cy="677.08" r="1.9" fill="#2a7ad6"/>
<circle cx="399.49" cy="679.23" r="1.9" fill="#2a7ad6"/>
<circle cx="396.78" cy="681.39" r="1.9" fill="#2a7ad6"/>
<circle cx="433.28" cy="623.82" r="1.9" fill="#25962a"/>
<circle cx="433.80" cy="623.82" r="1.9" fill="#25962a"/>
<circle cx="427.73" cy="625.26" r="1.9" fill="#25962a"/>
<circle cx="423.71" cy="626.70" r="1.9" fill="#25962a"/>
<circle cx="419.01" cy="632.46" r="1.9" fill="#25962a"/>
<circle cx="430.93" cy="636.06" r="1.9" fill="#25962a"/>
<circle cx="427.46" cy="639.66" r="1.9" fill="#25962a"/>
<circle cx="432.68" cy="639.66" r="1.9" fill="#25962a"/>
<circle cx="425.72" cy="641.10" r="1.9" fill="#25962a"/>
<circle cx="432.86" cy="643.25" r="1.9" fill="#25962a"/>
<circle cx="423.91" cy="645.41" r="1.9" fill="#25962a"/>
<circle cx="433.43" cy="648.29" r="1.9" fill="#25962a"/>
<circle cx="432.14" cy="650.45" r="1.9" fill="#25962a"/>
<circle cx="426.45" cy="654.05" r="1.9" fill="#25962a"/>
<circle cx="428.69" cy="657.65" r="1.9" fill="#25962a"/>
<circle cx="431.28" cy="661.24" r="1.9" fill="#25962a"/>
<circle cx="422.47" cy="664.84" r="1.9" fill="#25962a"/>
<circle cx="428.97" cy="669.88" r="1.9" fill="#25962a"/>
<circle cx="433.49" cy="672.04" r="1.9" fill="#25962a"/>
<circle cx="423.78" cy="677.08" r="1.9" fill="#25962a"/>
<circle cx="433.46" cy="692.91" r="1.9" fill="#25962a"/>
<line x1="325.00" y1="740.40" x2="452.00" y2="740.40" stroke="#000" stroke-width="2.0" stroke-linecap="butt"/>
<line x1="356.00" y1="740.40" x2="356.00" y2="747.90" stroke="#000" stroke-width="2.0" stroke-linecap="butt"/>
<line x1="392.00" y1="740.40" x2="392.00" y2="747.90" stroke="#000" stroke-width="2.0" stroke-linecap="butt"/>
<line x1="428.00" y1="740.40" x2="428.00" y2="747.90" stroke="#000" stroke-width="2.0" stroke-linecap="butt"/>
<polyline points="354.80,568.70 354.80,560.50 416.50,560.50 416.50,569.50" stroke="#000" stroke-width="1.6" fill="none" stroke-linejoin="miter" />
<line x1="390.80" y1="569.50" x2="428.10" y2="569.50" stroke="#000" stroke-width="1.6" stroke-linecap="butt"/>
<text x="384.70" y="561.00" font-family="'Liberation Sans', Arial, Helvetica, sans-serif" font-size="11" font-weight="bold" fill="#000" text-anchor="middle" >***</text>
<text transform="translate(291.20,649.50) rotate(-90)" font-family="'Liberation Sans', Arial, Helvetica, sans-serif" font-size="14.8" font-weight="bold" fill="#000" text-anchor="middle">FL intensity (a.u.)</text>
<text transform="translate(359.20,764.00) rotate(-45)" font-family="'Liberation Sans', Arial, Helvetica, sans-serif" font-size="13.0" font-weight="bold" fill="#000" text-anchor="end">RPDC-HI</text>
<text transform="translate(395.20,764.00) rotate(-45)" font-family="'Liberation Sans', Arial, Helvetica, sans-serif" font-size="13.0" font-weight="bold" fill="#000" text-anchor="end">RPDC-H</text>
<text transform="translate(431.20,764.00) rotate(-45)" font-family="'Liberation Sans', Arial, Helvetica, sans-serif" font-size="13.0" font-weight="bold" fill="#000" text-anchor="end">RPDC-I</text>
<line x1="535.00" y1="562.90" x2="535.00" y2="740.40" stroke="#000" stroke-width="2.0" stroke-linecap="butt"/>
<line x1="527.80" y1="739.40" x2="535.00" y2="739.40" stroke="#000" stroke-width="2.0" stroke-linecap="butt"/>
<text x="524.00" y="744.02" font-family="'Liberation Sans', Arial, Helvetica, sans-serif" font-size="12.9" font-weight="bold" fill="#000" text-anchor="end" >0</text>
<line x1="527.80" y1="704.10" x2="535.00" y2="704.10" stroke="#000" stroke-width="2.0" stroke-linecap="butt"/>
<text x="524.00" y="708.72" font-family="'Liberation Sans', Arial, Helvetica, sans-serif" font-size="12.9" font-weight="bold" fill="#000" text-anchor="end" >1,000</text>
<line x1="527.80" y1="668.80" x2="535.00" y2="668.80" stroke="#000" stroke-width="2.0" stroke-linecap="butt"/>
<text x="524.00" y="673.42" font-family="'Liberation Sans', Arial, Helvetica, sans-serif" font-size="12.9" font-weight="bold" fill="#000" text-anchor="end" >2,000</text>
<line x1="527.80" y1="633.50" x2="535.00" y2="633.50" stroke="#000" stroke-width="2.0" stroke-linecap="butt"/>
<text x="524.00" y="638.12" font-family="'Liberation Sans', Arial, Helvetica, sans-serif" font-size="12.9" font-weight="bold" fill="#000" text-anchor="end" >3,000</text>
<line x1="527.80" y1="598.20" x2="535.00" y2="598.20" stroke="#000" stroke-width="2.0" stroke-linecap="butt"/>
<text x="524.00" y="602.82" font-family="'Liberation Sans', Arial, Helvetica, sans-serif" font-size="12.9" font-weight="bold" fill="#000" text-anchor="end" >4,000</text>
<line x1="527.80" y1="562.90" x2="535.00" y2="562.90" stroke="#000" stroke-width="2.0" stroke-linecap="butt"/>
<text x="524.00" y="567.52" font-family="'Liberation Sans', Arial, Helvetica, sans-serif" font-size="12.9" font-weight="bold" fill="#000" text-anchor="end" >5,000</text>
<path d="M545.50,739.40 L545.50,727.39 L559.50,727.39 L559.50,739.40" fill="none" stroke="#6a6a6a" stroke-width="2.8" stroke-linejoin="miter"/>
<circle cx="547.50" cy="725.28" r="2.4" fill="#6a6a6a"/>
<circle cx="552.50" cy="725.99" r="2.4" fill="#6a6a6a"/>
<circle cx="557.50" cy="726.69" r="2.4" fill="#6a6a6a"/>
<path d="M572.70,739.40 L572.70,597.83 L586.70,597.83 L586.70,739.40" fill="none" stroke="#e8878a" stroke-width="2.8" stroke-linejoin="miter"/>
<line x1="579.70" y1="604.20" x2="579.70" y2="587.61" stroke="#e8878a" stroke-width="1.3" stroke-linecap="butt"/>
<line x1="575.70" y1="587.61" x2="583.70" y2="587.61" stroke="#e8878a" stroke-width="1.3" stroke-linecap="butt"/>
<line x1="575.70" y1="604.20" x2="583.70" y2="604.20" stroke="#e8878a" stroke-width="1.3" stroke-linecap="butt"/>
<circle cx="579.70" cy="587.61" r="2.5" fill="#e8878a"/>
<circle cx="574.20" cy="596.79" r="2.5" fill="#e8878a"/>
<circle cx="585.20" cy="601.73" r="2.5" fill="#e8878a"/>
<path d="M600.20,739.40 L600.20,624.31 L614.20,624.31 L614.20,739.40" fill="none" stroke="#2a7ad6" stroke-width="2.8" stroke-linejoin="miter"/>
<line x1="607.20" y1="625.73" x2="607.20" y2="619.38" stroke="#2a7ad6" stroke-width="1.3" stroke-linecap="butt"/>
<line x1="603.20" y1="619.38" x2="611.20" y2="619.38" stroke="#2a7ad6" stroke-width="1.3" stroke-linecap="butt"/>
<line x1="603.20" y1="625.73" x2="611.20" y2="625.73" stroke="#2a7ad6" stroke-width="1.3" stroke-linecap="butt"/>
<circle cx="607.20" cy="619.38" r="2.5" fill="#2a7ad6"/>
<circle cx="601.70" cy="622.91" r="2.5" fill="#2a7ad6"/>
<circle cx="612.70" cy="623.62" r="2.5" fill="#2a7ad6"/>
<path d="M627.30,739.40 L627.30,648.31 L641.30,648.31 L641.30,739.40" fill="none" stroke="#25962a" stroke-width="2.8" stroke-linejoin="miter"/>
<line x1="634.30" y1="657.50" x2="634.30" y2="635.26" stroke="#25962a" stroke-width="1.3" stroke-linecap="butt"/>
<line x1="630.30" y1="635.26" x2="638.30" y2="635.26" stroke="#25962a" stroke-width="1.3" stroke-linecap="butt"/>
<line x1="630.30" y1="657.50" x2="638.30" y2="657.50" stroke="#25962a" stroke-width="1.3" stroke-linecap="butt"/>
<circle cx="634.30" cy="635.26" r="2.5" fill="#25962a"/>
<circle cx="628.80" cy="647.62" r="2.5" fill="#25962a"/>
<circle cx="639.80" cy="656.44" r="2.5" fill="#25962a"/>
<line x1="527.80" y1="739.40" x2="653.20" y2="739.40" stroke="#000" stroke-width="2.0" stroke-linecap="butt"/>
<line x1="552.50" y1="739.40" x2="552.50" y2="746.90" stroke="#000" stroke-width="2.0" stroke-linecap="butt"/>
<line x1="579.70" y1="739.40" x2="579.70" y2="746.90" stroke="#000" stroke-width="2.0" stroke-linecap="butt"/>
<line x1="607.20" y1="739.40" x2="607.20" y2="746.90" stroke="#000" stroke-width="2.0" stroke-linecap="butt"/>
<line x1="634.30" y1="739.40" x2="634.30" y2="746.90" stroke="#000" stroke-width="2.0" stroke-linecap="butt"/>
<polyline points="579.30,570.50 579.30,561.30 640.80,561.30 640.80,570.50" stroke="#000" stroke-width="1.6" fill="none" stroke-linejoin="miter" />
<polyline points="579.30,580.90 579.30,570.50 612.00,570.50 612.00,580.90" stroke="#000" stroke-width="1.6" fill="none" stroke-linejoin="miter" />
<polyline points="606.60,608.30 606.60,598.40 639.60,598.40 639.60,608.30" stroke="#000" stroke-width="1.6" fill="none" stroke-linejoin="miter" />
<text x="610.30" y="563.00" font-family="'Liberation Sans', Arial, Helvetica, sans-serif" font-size="11" font-weight="bold" fill="#000" text-anchor="middle" >**</text>
<text x="596.90" y="572.30" font-family="'Liberation Sans', Arial, Helvetica, sans-serif" font-size="11" font-weight="bold" fill="#000" text-anchor="middle" >**</text>
<text x="622.70" y="600.00" font-family="'Liberation Sans', Arial, Helvetica, sans-serif" font-size="11" font-weight="bold" fill="#000" text-anchor="middle" >*</text>
<text transform="translate(482.60,651.20) rotate(-90)" font-family="'Liberation Sans', Arial, Helvetica, sans-serif" font-size="14.6" font-weight="bold" fill="#000" text-anchor="middle">FL intensity (a.u.)</text>
<text transform="translate(555.70,760.90) rotate(-45)" font-family="'Liberation Sans', Arial, Helvetica, sans-serif" font-size="12.9" font-weight="bold" fill="#000" text-anchor="end">Control</text>
<text transform="translate(582.90,760.90) rotate(-45)" font-family="'Liberation Sans', Arial, Helvetica, sans-serif" font-size="12.9" font-weight="bold" fill="#000" text-anchor="end">RPDC-HI</text>
<text transform="translate(610.40,760.90) rotate(-45)" font-family="'Liberation Sans', Arial, Helvetica, sans-serif" font-size="12.9" font-weight="bold" fill="#000" text-anchor="end">RPDC-H</text>
<text transform="translate(637.50,760.90) rotate(-45)" font-family="'Liberation Sans', Arial, Helvetica, sans-serif" font-size="12.9" font-weight="bold" fill="#000" text-anchor="end">RPDC-I</text>
<line x1="727.80" y1="559.60" x2="727.80" y2="659.80" stroke="#000" stroke-width="2.0" stroke-linecap="butt"/>
<line x1="727.80" y1="672.20" x2="727.80" y2="740.40" stroke="#000" stroke-width="2.0" stroke-linecap="butt"/>
<line x1="719.20" y1="559.60" x2="727.80" y2="559.60" stroke="#000" stroke-width="2.0" stroke-linecap="butt"/>
<text x="718.30" y="563.80" font-family="'Liberation Sans', Arial, Helvetica, sans-serif" font-size="12.0" font-weight="bold" fill="#000" text-anchor="end" >1200</text>
<line x1="719.20" y1="593.00" x2="727.80" y2="593.00" stroke="#000" stroke-width="2.0" stroke-linecap="butt"/>
<text x="718.30" y="597.20" font-family="'Liberation Sans', Arial, Helvetica, sans-serif" font-size="12.0" font-weight="bold" fill="#000" text-anchor="end" >1000</text>
<line x1="719.20" y1="626.40" x2="727.80" y2="626.40" stroke="#000" stroke-width="2.0" stroke-linecap="butt"/>
<text x="718.30" y="630.60" font-family="'Liberation Sans', Arial, Helvetica, sans-serif" font-size="12.0" font-weight="bold" fill="#000" text-anchor="end" >800</text>
<line x1="719.20" y1="659.80" x2="727.80" y2="659.80" stroke="#000" stroke-width="2.0" stroke-linecap="butt"/>
<text x="718.30" y="664.00" font-family="'Liberation Sans', Arial, Helvetica, sans-serif" font-size="12.0" font-weight="bold" fill="#000" text-anchor="end" >600</text>
<line x1="719.20" y1="673.20" x2="727.80" y2="673.20" stroke="#000" stroke-width="2.0" stroke-linecap="butt"/>
<text x="718.30" y="677.40" font-family="'Liberation Sans', Arial, Helvetica, sans-serif" font-size="12.0" font-weight="bold" fill="#000" text-anchor="end" >20</text>
<line x1="719.20" y1="689.75" x2="727.80" y2="689.75" stroke="#000" stroke-width="2.0" stroke-linecap="butt"/>
<text x="718.30" y="693.95" font-family="'Liberation Sans', Arial, Helvetica, sans-serif" font-size="12.0" font-weight="bold" fill="#000" text-anchor="end" >15</text>
<line x1="719.20" y1="706.30" x2="727.80" y2="706.30" stroke="#000" stroke-width="2.0" stroke-linecap="butt"/>
<text x="718.30" y="710.50" font-family="'Liberation Sans', Arial, Helvetica, sans-serif" font-size="12.0" font-weight="bold" fill="#000" text-anchor="end" >10</text>
<line x1="719.20" y1="722.85" x2="727.80" y2="722.85" stroke="#000" stroke-width="2.0" stroke-linecap="butt"/>
<text x="718.30" y="727.05" font-family="'Liberation Sans', Arial, Helvetica, sans-serif" font-size="12.0" font-weight="bold" fill="#000" text-anchor="end" >5</text>
<line x1="719.20" y1="739.40" x2="727.80" y2="739.40" stroke="#000" stroke-width="2.0" stroke-linecap="butt"/>
<text x="718.30" y="743.60" font-family="'Liberation Sans', Arial, Helvetica, sans-serif" font-size="12.0" font-weight="bold" fill="#000" text-anchor="end" >0</text>
<line x1="723.30" y1="656.40" x2="732.10" y2="664.40" stroke="#000" stroke-width="1.8" stroke-linecap="butt"/>
<line x1="723.30" y1="668.10" x2="732.30" y2="676.60" stroke="#000" stroke-width="1.8" stroke-linecap="butt"/>
<path d="M737.40,739.40 L737.40,734.74 L751.00,734.74 L751.00,739.40" fill="none" stroke="#6a6a6a" stroke-width="2.6" stroke-linejoin="miter"/>
<path d="M761.80,739.40 L761.80,724.81 L775.40,724.81 L775.40,739.40" fill="none" stroke="#e8878a" stroke-width="2.6" stroke-linejoin="miter"/>
<path d="M786.20,739.40 L786.20,697.67 L799.80,697.67 L799.80,739.40" fill="none" stroke="#2a7ad6" stroke-width="2.6" stroke-linejoin="miter"/>
<path d="M810.70,739.40 L810.70,700.98 L824.30,700.98 L824.30,739.40" fill="none" stroke="#25962a" stroke-width="2.6" stroke-linejoin="miter"/>
<path d="M835.40,659.80 L835.40,648.41 L849.00,648.41 L849.00,659.80" fill="none" stroke="#e8878a" stroke-width="2.6" stroke-linejoin="miter"/>
<line x1="835.40" y1="673.20" x2="835.40" y2="739.40" stroke="#e8878a" stroke-width="2.6" stroke-linecap="butt"/>
<line x1="849.00" y1="673.20" x2="849.00" y2="739.40" stroke="#e8878a" stroke-width="2.6" stroke-linecap="butt"/>
<path d="M859.80,659.80 L859.80,592.63 L873.40,592.63 L873.40,659.80" fill="none" stroke="#2a7ad6" stroke-width="2.6" stroke-linejoin="miter"/>
<line x1="859.80" y1="673.20" x2="859.80" y2="739.40" stroke="#2a7ad6" stroke-width="2.6" stroke-linecap="butt"/>
<line x1="873.40" y1="673.20" x2="873.40" y2="739.40" stroke="#2a7ad6" stroke-width="2.6" stroke-linecap="butt"/>
<path d="M884.20,659.80 L884.20,605.15 L897.80,605.15 L897.80,659.80" fill="none" stroke="#25962a" stroke-width="2.6" stroke-linejoin="miter"/>
<line x1="884.20" y1="673.20" x2="884.20" y2="739.40" stroke="#25962a" stroke-width="2.6" stroke-linecap="butt"/>
<line x1="897.80" y1="673.20" x2="897.80" y2="739.40" stroke="#25962a" stroke-width="2.6" stroke-linecap="butt"/>
<line x1="719.20" y1="739.40" x2="908.90" y2="739.40" stroke="#000" stroke-width="2.0" stroke-linecap="butt"/>
<line x1="744.20" y1="739.40" x2="744.20" y2="746.90" stroke="#000" stroke-width="2.0" stroke-linecap="butt"/>
<line x1="768.60" y1="739.40" x2="768.60" y2="746.90" stroke="#000" stroke-width="2.0" stroke-linecap="butt"/>
<line x1="793.00" y1="739.40" x2="793.00" y2="746.90" stroke="#000" stroke-width="2.0" stroke-linecap="butt"/>
<line x1="817.50" y1="739.40" x2="817.50" y2="746.90" stroke="#000" stroke-width="2.0" stroke-linecap="butt"/>
<line x1="842.20" y1="739.40" x2="842.20" y2="746.90" stroke="#000" stroke-width="2.0" stroke-linecap="butt"/>
<line x1="866.60" y1="739.40" x2="866.60" y2="746.90" stroke="#000" stroke-width="2.0" stroke-linecap="butt"/>
<line x1="891.00" y1="739.40" x2="891.00" y2="746.90" stroke="#000" stroke-width="2.0" stroke-linecap="butt"/>
<text transform="translate(683.2,650.4) rotate(-90)" font-family="'Liberation Sans', Arial, Helvetica, sans-serif" font-size="12.6" font-weight="bold" text-anchor="middle">IC<tspan font-size="8.6" dy="2.6">50</tspan><tspan dy="-2.6"> (µg mL</tspan><tspan font-size="8.6" dy="-5.4">-1</tspan><tspan dy="5.4">)</tspan></text>
<text transform="translate(746.20,760.40) rotate(-45)" font-family="'Liberation Sans', Arial, Helvetica, sans-serif" font-size="11.8" font-weight="bold" fill="#000" text-anchor="end">DOX</text>
<text transform="translate(770.60,760.40) rotate(-45)" font-family="'Liberation Sans', Arial, Helvetica, sans-serif" font-size="11.8" font-weight="bold" fill="#000" text-anchor="end">RPDC-HI</text>
<text transform="translate(795.00,760.40) rotate(-45)" font-family="'Liberation Sans', Arial, Helvetica, sans-serif" font-size="11.8" font-weight="bold" fill="#000" text-anchor="end">RPDC-H</text>
<text transform="translate(819.50,760.40) rotate(-45)" font-family="'Liberation Sans', Arial, Helvetica, sans-serif" font-size="11.8" font-weight="bold" fill="#000" text-anchor="end">RPDC-I</text>
<text transform="translate(844.20,760.40) rotate(-45)" font-family="'Liberation Sans', Arial, Helvetica, sans-serif" font-size="11.8" font-weight="bold" fill="#000" text-anchor="end">RP-HI</text>
<text transform="translate(868.60,760.40) rotate(-45)" font-family="'Liberation Sans', Arial, Helvetica, sans-serif" font-size="11.8" font-weight="bold" fill="#000" text-anchor="end">RP-H</text>
<text transform="translate(893.00,760.40) rotate(-45)" font-family="'Liberation Sans', Arial, Helvetica, sans-serif" font-size="11.8" font-weight="bold" fill="#000" text-anchor="end">RP-I</text>
<g style="isolation:isolate">
<line x1="500.80" y1="347.60" x2="678.00" y2="347.60" stroke="#bccbb0" stroke-width="1.2" stroke-linecap="butt"/>
<line x1="500.80" y1="383.00" x2="678.00" y2="383.00" stroke="#a8c4e0" stroke-width="1.2" stroke-linecap="butt"/>
<line x1="500.80" y1="418.60" x2="678.00" y2="418.60" stroke="#eaa2aa" stroke-width="1.2" stroke-linecap="butt"/>
<line x1="500.80" y1="452.90" x2="678.00" y2="452.90" stroke="#888" stroke-width="1.2" stroke-linecap="butt"/>
<path d="M556.00,347.60 L556.00,347.50 Q556.00,347.50 558.20,347.20 Q560.40,346.90 564.05,345.95 Q567.70,345.00 570.70,342.55 Q573.70,340.10 576.75,335.25 Q579.80,330.40 581.60,323.10 Q583.40,315.80 585.25,307.30 Q587.10,298.80 588.30,293.95 Q589.50,289.10 590.70,287.65 Q591.90,286.20 593.75,287.05 Q595.60,287.90 597.40,290.95 Q599.20,294.00 601.65,300.05 Q604.10,306.10 606.50,310.95 Q608.90,315.80 611.35,320.65 Q613.80,325.50 616.20,330.35 Q618.60,335.20 621.65,338.85 Q624.70,342.50 627.75,343.95 Q630.80,345.40 635.65,345.90 Q640.50,346.40 645.35,346.80 L650.20,347.20 L650.20,347.60 Z" fill="#69a33f" fill-opacity="0.6" stroke="#5a8c32" stroke-width="1"/>
<path d="M566.00,383.00 L566.00,383.00 Q566.00,383.00 569.25,382.80 Q572.50,382.60 576.15,381.35 Q579.80,380.10 582.85,375.90 Q585.90,371.70 588.30,365.60 Q590.70,359.50 593.75,351.00 Q596.80,342.50 599.25,336.45 Q601.70,330.40 603.50,327.35 Q605.30,324.30 607.10,323.95 Q608.90,323.60 610.15,326.40 Q611.40,329.20 613.80,333.45 Q616.20,337.70 618.65,342.55 Q621.10,347.40 622.90,352.25 Q624.70,357.10 627.15,361.95 Q629.60,366.80 632.60,370.45 Q635.60,374.10 639.25,377.10 Q642.90,380.10 645.95,381.55 L649.00,383.00 L649.00,383.00 Z" fill="#468ce6" fill-opacity="0.6" stroke="#2a70c0" stroke-width="1"/>
<path d="M586.00,418.60 L586.00,418.60 Q586.00,418.60 587.75,418.45 Q589.50,418.30 594.35,417.80 Q599.20,417.30 602.85,415.10 Q606.50,412.90 610.15,408.05 Q613.80,403.20 617.45,394.70 Q621.10,386.20 623.50,379.55 Q625.90,372.90 628.35,369.85 Q630.80,366.80 632.00,366.20 Q633.20,365.60 634.40,367.40 Q635.60,369.20 636.85,369.80 Q638.10,370.40 640.50,373.45 Q642.90,376.50 646.55,382.55 Q650.20,388.60 653.85,394.70 Q657.50,400.80 661.15,406.25 Q664.80,411.70 667.80,414.50 Q670.80,417.30 674.40,417.95 L678.00,418.60 L678.00,418.60 Z" fill="#f53c46" fill-opacity="0.6" stroke="#d83248" stroke-width="1"/>
<path d="M510.00,452.90 L510.00,452.90 Q510.00,452.90 511.55,452.30 Q513.10,451.70 516.70,450.50 Q520.30,449.30 523.95,445.65 Q527.60,442.00 530.65,434.75 Q533.70,427.50 536.10,419.00 Q538.50,410.50 540.35,405.05 Q542.20,399.60 544.00,397.15 Q545.80,394.70 547.05,394.10 Q548.30,393.50 550.10,395.30 Q551.90,397.10 553.70,401.35 Q555.50,405.60 557.95,412.90 Q560.40,420.20 562.80,427.50 Q565.20,434.80 567.65,439.65 Q570.10,444.50 573.15,447.50 Q576.20,450.50 579.20,451.70 L582.20,452.90 L582.20,452.90 Z" fill="#717171" fill-opacity="0.6" stroke="#505050" stroke-width="1"/>
</g>
<path d="M500.8,452.9 L500.8,274.8 L678.0,274.8 L678.0,452.9" fill="none" stroke="#3a3a3a" stroke-width="1.2"/>
<line x1="500.20" y1="452.90" x2="678.60" y2="452.90" stroke="#222" stroke-width="1.4" stroke-linecap="butt"/>
<line x1="500.80" y1="452.90" x2="500.80" y2="456.90" stroke="#222" stroke-width="1.2" stroke-linecap="butt"/>
<line x1="527.38" y1="452.90" x2="527.38" y2="454.70" stroke="#222" stroke-width="1.2" stroke-linecap="butt"/>
<line x1="542.93" y1="452.90" x2="542.93" y2="454.70" stroke="#222" stroke-width="1.2" stroke-linecap="butt"/>
<line x1="553.96" y1="452.90" x2="553.96" y2="454.70" stroke="#222" stroke-width="1.2" stroke-linecap="butt"/>
<line x1="562.52" y1="452.90" x2="562.52" y2="454.70" stroke="#222" stroke-width="1.2" stroke-linecap="butt"/>
<line x1="569.51" y1="452.90" x2="569.51" y2="454.70" stroke="#222" stroke-width="1.2" stroke-linecap="butt"/>
<line x1="575.42" y1="452.90" x2="575.42" y2="454.70" stroke="#222" stroke-width="1.2" stroke-linecap="butt"/>
<line x1="580.54" y1="452.90" x2="580.54" y2="454.70" stroke="#222" stroke-width="1.2" stroke-linecap="butt"/>
<line x1="585.06" y1="452.90" x2="585.06" y2="454.70" stroke="#222" stroke-width="1.2" stroke-linecap="butt"/>
<line x1="589.10" y1="452.90" x2="589.10" y2="456.90" stroke="#222" stroke-width="1.2" stroke-linecap="butt"/>
<line x1="615.68" y1="452.90" x2="615.68" y2="454.70" stroke="#222" stroke-width="1.2" stroke-linecap="butt"/>
<line x1="631.23" y1="452.90" x2="631.23" y2="454.70" stroke="#222" stroke-width="1.2" stroke-linecap="butt"/>
<line x1="642.26" y1="452.90" x2="642.26" y2="454.70" stroke="#222" stroke-width="1.2" stroke-linecap="butt"/>
<line x1="650.82" y1="452.90" x2="650.82" y2="454.70" stroke="#222" stroke-width="1.2" stroke-linecap="butt"/>
<line x1="657.81" y1="452.90" x2="657.81" y2="454.70" stroke="#222" stroke-width="1.2" stroke-linecap="butt"/>
<line x1="663.72" y1="452.90" x2="663.72" y2="454.70" stroke="#222" stroke-width="1.2" stroke-linecap="butt"/>
<line x1="668.84" y1="452.90" x2="668.84" y2="454.70" stroke="#222" stroke-width="1.2" stroke-linecap="butt"/>
<line x1="673.36" y1="452.90" x2="673.36" y2="454.70" stroke="#222" stroke-width="1.2" stroke-linecap="butt"/>
<line x1="677.40" y1="452.90" x2="677.40" y2="456.90" stroke="#222" stroke-width="1.2" stroke-linecap="butt"/>
<text x="503.80" y="478.80" font-family="'Liberation Sans', Arial, Helvetica, sans-serif" font-size="9.2" font-weight="bold" fill="#000" text-anchor="start" >10</text>
<text x="515.00" y="471.20" font-family="'Liberation Sans', Arial, Helvetica, sans-serif" font-size="8.2" font-weight="bold" fill="#000" text-anchor="start" >2</text>
<text x="585.20" y="478.80" font-family="'Liberation Sans', Arial, Helvetica, sans-serif" font-size="9.2" font-weight="bold" fill="#000" text-anchor="start" >10</text>
<text x="596.40" y="471.20" font-family="'Liberation Sans', Arial, Helvetica, sans-serif" font-size="8.2" font-weight="bold" fill="#000" text-anchor="start" >3</text>
<text x="662.30" y="478.80" font-family="'Liberation Sans', Arial, Helvetica, sans-serif" font-size="9.2" font-weight="bold" fill="#000" text-anchor="start" >10</text>
<text x="673.50" y="471.20" font-family="'Liberation Sans', Arial, Helvetica, sans-serif" font-size="8.2" font-weight="bold" fill="#000" text-anchor="start" >4</text>
<text x="592.00" y="492.40" font-family="'Liberation Sans', Arial, Helvetica, sans-serif" font-size="13.1" font-weight="bold" fill="#000" text-anchor="middle" >FL intensity (a.u.)</text>
<text x="511.20" y="333.40" font-family="'Liberation Sans', Arial, Helvetica, sans-serif" font-size="11.7" font-weight="bold" fill="#000" text-anchor="start" >RPDC-I</text>
<text x="519.20" y="370.20" font-family="'Liberation Sans', Arial, Helvetica, sans-serif" font-size="11.7" font-weight="bold" fill="#000" text-anchor="start" >RPDC-H</text>
<text x="549.40" y="404.60" font-family="'Liberation Sans', Arial, Helvetica, sans-serif" font-size="11.7" font-weight="bold" fill="#000" text-anchor="start" >RPDC-HI</text>
<text x="574.00" y="443.60" font-family="'Liberation Sans', Arial, Helvetica, sans-serif" font-size="11.7" font-weight="bold" fill="#000" text-anchor="start" >Control</text>
</svg>
</body></html>
